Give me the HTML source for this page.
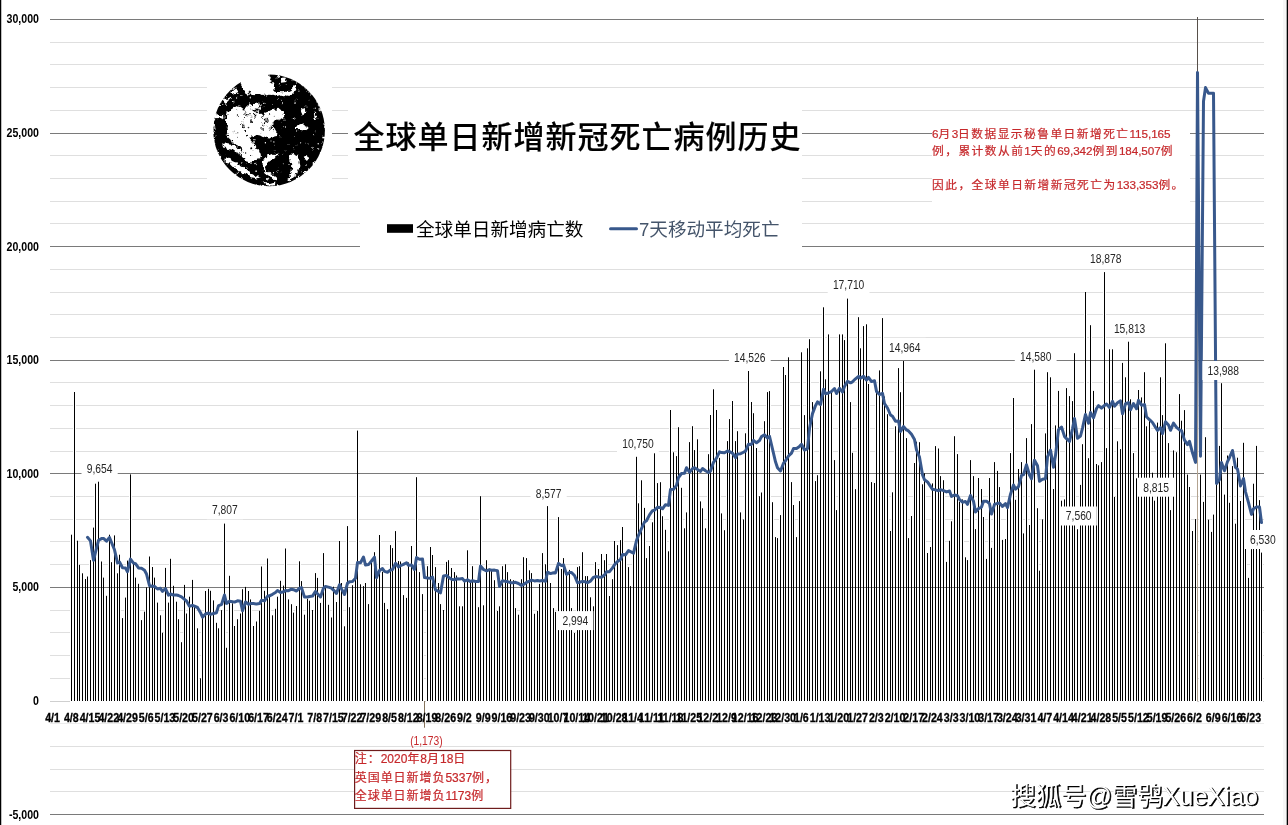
<!DOCTYPE html>
<html lang="zh"><head><meta charset="utf-8"><title>全球单日新增新冠死亡病例历史</title>
<style>
html,body{margin:0;padding:0;background:#fff;}
body{width:1288px;height:825px;overflow:hidden;font-family:"Liberation Sans","Noto Sans CJK SC",sans-serif;}
svg{display:block;}
.ax{font-family:"Liberation Sans",sans-serif;font-weight:bold;font-size:12.4px;fill:#000;stroke:#000;stroke-width:0.3px;}
.ay{font-family:"Liberation Sans",sans-serif;font-weight:bold;font-size:12.8px;fill:#000;}
.dl{font-family:"Liberation Sans",sans-serif;font-size:12.4px;fill:#262626;}
.cj{font-family:"Liberation Sans","Noto Sans CJK SC",sans-serif;}
</style></head><body>
<svg width="1288" height="825" viewBox="0 0 1288 825">
<rect x="0" y="0" width="1288" height="825" fill="#fff"/>
<g shape-rendering="crispEdges"><line x1="50" y1="791.5" x2="1264" y2="791.5" stroke="#dfdfdf" stroke-width="1"/><line x1="50" y1="769.5" x2="1264" y2="769.5" stroke="#dfdfdf" stroke-width="1"/><line x1="50" y1="746.5" x2="1264" y2="746.5" stroke="#dfdfdf" stroke-width="1"/><line x1="50" y1="723.5" x2="1264" y2="723.5" stroke="#ececec" stroke-width="1"/><line x1="50" y1="701.5" x2="1264" y2="701.5" stroke="#cfcfcf" stroke-width="1"/><line x1="50" y1="678.5" x2="1264" y2="678.5" stroke="#dfdfdf" stroke-width="1"/><line x1="50" y1="655.5" x2="1264" y2="655.5" stroke="#dfdfdf" stroke-width="1"/><line x1="50" y1="632.5" x2="1264" y2="632.5" stroke="#dfdfdf" stroke-width="1"/><line x1="50" y1="610.5" x2="1264" y2="610.5" stroke="#dfdfdf" stroke-width="1"/><line x1="50" y1="564.5" x2="1264" y2="564.5" stroke="#dfdfdf" stroke-width="1"/><line x1="50" y1="541.5" x2="1264" y2="541.5" stroke="#dfdfdf" stroke-width="1"/><line x1="50" y1="519.5" x2="1264" y2="519.5" stroke="#dfdfdf" stroke-width="1"/><line x1="50" y1="496.5" x2="1264" y2="496.5" stroke="#dfdfdf" stroke-width="1"/><line x1="50" y1="451.5" x2="1264" y2="451.5" stroke="#dfdfdf" stroke-width="1"/><line x1="50" y1="428.5" x2="1264" y2="428.5" stroke="#dfdfdf" stroke-width="1"/><line x1="50" y1="405.5" x2="1264" y2="405.5" stroke="#dfdfdf" stroke-width="1"/><line x1="50" y1="382.5" x2="1264" y2="382.5" stroke="#dfdfdf" stroke-width="1"/><line x1="50" y1="337.5" x2="1264" y2="337.5" stroke="#dfdfdf" stroke-width="1"/><line x1="50" y1="314.5" x2="1264" y2="314.5" stroke="#dfdfdf" stroke-width="1"/><line x1="50" y1="292.5" x2="1264" y2="292.5" stroke="#dfdfdf" stroke-width="1"/><line x1="50" y1="269.5" x2="1264" y2="269.5" stroke="#dfdfdf" stroke-width="1"/><line x1="50" y1="223.5" x2="1264" y2="223.5" stroke="#dfdfdf" stroke-width="1"/><line x1="50" y1="201.5" x2="1264" y2="201.5" stroke="#dfdfdf" stroke-width="1"/><line x1="50" y1="178.5" x2="1264" y2="178.5" stroke="#dfdfdf" stroke-width="1"/><line x1="50" y1="155.5" x2="1264" y2="155.5" stroke="#dfdfdf" stroke-width="1"/><line x1="50" y1="110.5" x2="1264" y2="110.5" stroke="#dfdfdf" stroke-width="1"/><line x1="50" y1="87.5" x2="1264" y2="87.5" stroke="#dfdfdf" stroke-width="1"/><line x1="50" y1="64.5" x2="1264" y2="64.5" stroke="#dfdfdf" stroke-width="1"/><line x1="50" y1="42.5" x2="1264" y2="42.5" stroke="#dfdfdf" stroke-width="1"/></g>
<g fill="#fff"><rect x="70" y="536.2" width="3" height="165.8"/><rect x="73" y="393.5" width="3" height="308.5"/><rect x="76" y="542.2" width="3" height="159.8"/><rect x="78" y="566.4" width="3" height="135.6"/><rect x="81" y="574.8" width="3" height="127.2"/><rect x="84" y="580.5" width="3" height="121.5"/><rect x="86" y="578.0" width="3" height="124.0"/><rect x="89" y="561.6" width="3" height="140.4"/><rect x="92" y="529.1" width="3" height="172.9"/><rect x="94" y="485.2" width="3" height="216.8"/><rect x="97" y="483.2" width="3" height="218.8"/><rect x="100" y="563.0" width="3" height="139.0"/><rect x="102" y="579.1" width="3" height="122.9"/><rect x="105" y="597.3" width="3" height="104.7"/><rect x="108" y="536.2" width="3" height="165.8"/><rect x="110" y="563.7" width="3" height="138.3"/><rect x="113" y="536.9" width="3" height="165.1"/><rect x="116" y="574.8" width="3" height="127.2"/><rect x="118" y="556.2" width="3" height="145.8"/><rect x="121" y="619.6" width="3" height="82.4"/><rect x="124" y="599.1" width="3" height="102.9"/><rect x="126" y="562.1" width="3" height="139.9"/><rect x="129" y="475.9" width="3" height="226.1"/><rect x="132" y="564.6" width="3" height="137.4"/><rect x="134" y="579.1" width="3" height="122.9"/><rect x="137" y="585.3" width="3" height="116.7"/><rect x="140" y="621.6" width="3" height="80.4"/><rect x="143" y="613.2" width="3" height="88.8"/><rect x="145" y="588.9" width="3" height="113.1"/><rect x="148" y="558.0" width="3" height="144.0"/><rect x="151" y="568.5" width="3" height="133.5"/><rect x="153" y="579.1" width="3" height="122.9"/><rect x="156" y="604.1" width="3" height="97.9"/><rect x="159" y="616.8" width="3" height="85.2"/><rect x="161" y="634.3" width="3" height="67.7"/><rect x="164" y="569.4" width="3" height="132.6"/><rect x="167" y="604.1" width="3" height="97.9"/><rect x="169" y="560.3" width="3" height="141.7"/><rect x="172" y="587.3" width="3" height="114.7"/><rect x="175" y="603.2" width="3" height="98.8"/><rect x="177" y="620.7" width="3" height="81.3"/><rect x="180" y="643.7" width="3" height="58.3"/><rect x="183" y="586.4" width="3" height="115.6"/><rect x="185" y="615.0" width="3" height="87.0"/><rect x="188" y="598.2" width="3" height="103.8"/><rect x="191" y="581.4" width="3" height="120.6"/><rect x="193" y="608.4" width="3" height="93.6"/><rect x="196" y="629.8" width="3" height="72.2"/><rect x="199" y="679.8" width="3" height="22.2"/><rect x="201" y="618.4" width="3" height="83.6"/><rect x="204" y="592.5" width="3" height="109.5"/><rect x="207" y="590.3" width="3" height="111.7"/><rect x="209" y="592.3" width="3" height="109.7"/><rect x="212" y="601.9" width="3" height="100.1"/><rect x="215" y="624.3" width="3" height="77.7"/><rect x="217" y="629.8" width="3" height="72.2"/><rect x="220" y="611.6" width="3" height="90.4"/><rect x="223" y="525.1" width="3" height="176.9"/><rect x="225" y="649.3" width="3" height="52.7"/><rect x="228" y="577.3" width="3" height="124.7"/><rect x="231" y="604.8" width="3" height="97.2"/><rect x="233" y="627.5" width="3" height="74.5"/><rect x="236" y="620.7" width="3" height="81.3"/><rect x="239" y="615.0" width="3" height="87.0"/><rect x="241" y="590.7" width="3" height="111.3"/><rect x="244" y="588.4" width="3" height="113.6"/><rect x="247" y="592.5" width="3" height="109.5"/><rect x="249" y="600.9" width="3" height="101.1"/><rect x="252" y="627.5" width="3" height="74.5"/><rect x="255" y="623.0" width="3" height="79.0"/><rect x="258" y="612.3" width="3" height="89.7"/><rect x="260" y="568.0" width="3" height="134.0"/><rect x="263" y="592.3" width="3" height="109.7"/><rect x="266" y="560.0" width="3" height="142.0"/><rect x="268" y="598.2" width="3" height="103.8"/><rect x="271" y="616.8" width="3" height="85.2"/><rect x="274" y="610.3" width="3" height="91.7"/><rect x="276" y="598.2" width="3" height="103.8"/><rect x="279" y="582.3" width="3" height="119.7"/><rect x="282" y="587.1" width="3" height="114.9"/><rect x="284" y="550.0" width="3" height="152.0"/><rect x="287" y="600.9" width="3" height="101.1"/><rect x="290" y="605.7" width="3" height="96.3"/><rect x="292" y="614.1" width="3" height="87.9"/><rect x="295" y="607.5" width="3" height="94.5"/><rect x="298" y="562.8" width="3" height="139.2"/><rect x="300" y="582.6" width="3" height="119.4"/><rect x="303" y="616.2" width="3" height="85.8"/><rect x="306" y="600.3" width="3" height="101.7"/><rect x="308" y="602.2" width="3" height="99.8"/><rect x="311" y="611.5" width="3" height="90.5"/><rect x="314" y="574.6" width="3" height="127.4"/><rect x="316" y="579.4" width="3" height="122.6"/><rect x="319" y="604.4" width="3" height="97.6"/><rect x="322" y="554.6" width="3" height="147.4"/><rect x="324" y="589.1" width="3" height="112.9"/><rect x="327" y="606.3" width="3" height="95.7"/><rect x="330" y="619.0" width="3" height="83.0"/><rect x="332" y="588.2" width="3" height="113.8"/><rect x="335" y="603.5" width="3" height="98.5"/><rect x="338" y="542.5" width="3" height="159.5"/><rect x="340" y="584.5" width="3" height="117.5"/><rect x="343" y="627.8" width="3" height="74.2"/><rect x="346" y="527.6" width="3" height="174.4"/><rect x="348" y="608.7" width="3" height="93.3"/><rect x="351" y="586.7" width="3" height="115.3"/><rect x="354" y="580.7" width="3" height="121.3"/><rect x="356" y="432.1" width="3" height="269.9"/><rect x="359" y="585.8" width="3" height="116.2"/><rect x="362" y="587.6" width="3" height="114.4"/><rect x="364" y="584.5" width="3" height="117.5"/><rect x="367" y="605.6" width="3" height="96.4"/><rect x="370" y="561.1" width="3" height="140.9"/><rect x="373" y="553.7" width="3" height="148.3"/><rect x="375" y="576.1" width="3" height="125.9"/><rect x="378" y="536.5" width="3" height="165.5"/><rect x="381" y="573.3" width="3" height="128.7"/><rect x="383" y="604.4" width="3" height="97.6"/><rect x="386" y="610.6" width="3" height="91.4"/><rect x="389" y="546.6" width="3" height="155.4"/><rect x="391" y="549.6" width="3" height="152.4"/><rect x="394" y="532.6" width="3" height="169.4"/><rect x="397" y="562.6" width="3" height="139.4"/><rect x="399" y="563.0" width="3" height="139.0"/><rect x="402" y="596.6" width="3" height="105.4"/><rect x="405" y="599.4" width="3" height="102.6"/><rect x="407" y="563.9" width="3" height="138.1"/><rect x="410" y="547.5" width="3" height="154.5"/><rect x="413" y="564.9" width="3" height="137.1"/><rect x="415" y="478.7" width="3" height="223.3"/><rect x="418" y="573.6" width="3" height="128.4"/><rect x="421" y="595.6" width="3" height="106.4"/><rect x="426" y="567.7" width="3" height="134.3"/><rect x="429" y="548.5" width="3" height="153.5"/><rect x="431" y="556.5" width="3" height="145.5"/><rect x="434" y="568.6" width="3" height="133.4"/><rect x="437" y="584.5" width="3" height="117.5"/><rect x="439" y="605.6" width="3" height="96.4"/><rect x="442" y="611.5" width="3" height="90.5"/><rect x="445" y="563.4" width="3" height="138.6"/><rect x="447" y="561.7" width="3" height="140.3"/><rect x="450" y="569.5" width="3" height="132.5"/><rect x="453" y="573.6" width="3" height="128.4"/><rect x="455" y="577.0" width="3" height="125.0"/><rect x="458" y="607.8" width="3" height="94.2"/><rect x="461" y="607.8" width="3" height="94.2"/><rect x="463" y="581.7" width="3" height="120.3"/><rect x="466" y="551.8" width="3" height="150.2"/><rect x="469" y="581.7" width="3" height="120.3"/><rect x="471" y="567.7" width="3" height="134.3"/><rect x="474" y="582.6" width="3" height="119.4"/><rect x="477" y="608.7" width="3" height="93.3"/><rect x="479" y="497.7" width="3" height="204.3"/><rect x="482" y="606.8" width="3" height="95.2"/><rect x="485" y="561.7" width="3" height="140.3"/><rect x="488" y="572.3" width="3" height="129.7"/><rect x="490" y="572.3" width="3" height="129.7"/><rect x="493" y="581.7" width="3" height="120.3"/><rect x="496" y="612.5" width="3" height="89.5"/><rect x="498" y="607.8" width="3" height="94.2"/><rect x="501" y="567.7" width="3" height="134.3"/><rect x="504" y="565.8" width="3" height="136.2"/><rect x="506" y="573.6" width="3" height="128.4"/><rect x="509" y="580.7" width="3" height="121.3"/><rect x="512" y="581.7" width="3" height="120.3"/><rect x="514" y="609.6" width="3" height="92.4"/><rect x="517" y="616.2" width="3" height="85.8"/><rect x="520" y="580.7" width="3" height="121.3"/><rect x="522" y="558.7" width="3" height="143.3"/><rect x="525" y="559.6" width="3" height="142.4"/><rect x="528" y="571.8" width="3" height="130.2"/><rect x="530" y="574.6" width="3" height="127.4"/><rect x="533" y="615.3" width="3" height="86.7"/><rect x="536" y="612.5" width="3" height="89.5"/><rect x="538" y="585.4" width="3" height="116.6"/><rect x="541" y="554.6" width="3" height="147.4"/><rect x="544" y="565.8" width="3" height="136.2"/><rect x="546" y="507.6" width="3" height="194.4"/><rect x="549" y="584.5" width="3" height="117.5"/><rect x="552" y="609.6" width="3" height="92.4"/><rect x="554" y="613.4" width="3" height="88.6"/><rect x="557" y="518.6" width="3" height="183.4"/><rect x="560" y="570.5" width="3" height="131.5"/><rect x="562" y="559.6" width="3" height="142.4"/><rect x="565" y="575.1" width="3" height="126.9"/><rect x="568" y="571.4" width="3" height="130.6"/><rect x="570" y="609.6" width="3" height="92.4"/><rect x="573" y="634.5" width="3" height="67.5"/><rect x="576" y="568.6" width="3" height="133.4"/><rect x="578" y="567.7" width="3" height="134.3"/><rect x="581" y="553.7" width="3" height="148.3"/><rect x="584" y="577.6" width="3" height="124.4"/><rect x="586" y="577.6" width="3" height="124.4"/><rect x="589" y="598.8" width="3" height="103.2"/><rect x="592" y="607.8" width="3" height="94.2"/><rect x="594" y="563.6" width="3" height="138.4"/><rect x="597" y="570.5" width="3" height="131.5"/><rect x="600" y="555.5" width="3" height="146.5"/><rect x="603" y="561.7" width="3" height="140.3"/><rect x="605" y="555.5" width="3" height="146.5"/><rect x="608" y="597.5" width="3" height="104.5"/><rect x="611" y="580.7" width="3" height="121.3"/><rect x="613" y="542.5" width="3" height="159.5"/><rect x="616" y="546.6" width="3" height="155.4"/><rect x="619" y="541.6" width="3" height="160.4"/><rect x="621" y="528.5" width="3" height="173.5"/><rect x="624" y="556.5" width="3" height="145.5"/><rect x="627" y="568.6" width="3" height="133.4"/><rect x="629" y="587.6" width="3" height="114.4"/><rect x="632" y="553.7" width="3" height="148.3"/><rect x="635" y="458.3" width="3" height="243.7"/><rect x="637" y="504.8" width="3" height="197.2"/><rect x="640" y="481.8" width="3" height="220.2"/><rect x="643" y="509.4" width="3" height="192.6"/><rect x="645" y="559.6" width="3" height="142.4"/><rect x="648" y="547.5" width="3" height="154.5"/><rect x="651" y="523.8" width="3" height="178.2"/><rect x="653" y="454.8" width="3" height="247.2"/><rect x="656" y="484.6" width="3" height="217.4"/><rect x="659" y="483.7" width="3" height="218.3"/><rect x="661" y="517.7" width="3" height="184.3"/><rect x="664" y="531.3" width="3" height="170.7"/><rect x="667" y="552.8" width="3" height="149.2"/><rect x="669" y="411.5" width="3" height="290.5"/><rect x="672" y="453.8" width="3" height="248.2"/><rect x="675" y="457.6" width="3" height="244.4"/><rect x="677" y="428.7" width="3" height="273.3"/><rect x="680" y="489.3" width="3" height="212.7"/><rect x="683" y="529.8" width="3" height="172.2"/><rect x="685" y="513.9" width="3" height="188.1"/><rect x="688" y="443.6" width="3" height="258.4"/><rect x="691" y="427.7" width="3" height="274.3"/><rect x="693" y="451.6" width="3" height="250.4"/><rect x="696" y="440.8" width="3" height="261.2"/><rect x="699" y="502.9" width="3" height="199.1"/><rect x="701" y="509.8" width="3" height="192.2"/><rect x="704" y="529.8" width="3" height="172.2"/><rect x="707" y="455.7" width="3" height="246.3"/><rect x="709" y="416.5" width="3" height="285.5"/><rect x="712" y="390.8" width="3" height="311.2"/><rect x="715" y="411.5" width="3" height="290.5"/><rect x="718" y="459.4" width="3" height="242.6"/><rect x="720" y="514.9" width="3" height="187.1"/><rect x="723" y="531.7" width="3" height="170.3"/><rect x="726" y="442.6" width="3" height="259.4"/><rect x="728" y="420.6" width="3" height="281.4"/><rect x="731" y="402.5" width="3" height="299.5"/><rect x="734" y="442.6" width="3" height="259.4"/><rect x="736" y="432.7" width="3" height="269.3"/><rect x="739" y="513.9" width="3" height="188.1"/><rect x="742" y="521.0" width="3" height="181.0"/><rect x="744" y="434.8" width="3" height="267.2"/><rect x="747" y="372.5" width="3" height="329.5"/><rect x="750" y="403.5" width="3" height="298.5"/><rect x="752" y="414.7" width="3" height="287.3"/><rect x="755" y="449.5" width="3" height="252.5"/><rect x="758" y="497.7" width="3" height="204.3"/><rect x="760" y="494.0" width="3" height="208.0"/><rect x="763" y="422.7" width="3" height="279.3"/><rect x="766" y="393.6" width="3" height="308.4"/><rect x="768" y="392.6" width="3" height="309.4"/><rect x="771" y="503.7" width="3" height="198.3"/><rect x="774" y="538.6" width="3" height="163.4"/><rect x="776" y="539.6" width="3" height="162.4"/><rect x="779" y="516.6" width="3" height="185.4"/><rect x="782" y="368.5" width="3" height="333.5"/><rect x="784" y="376.5" width="3" height="325.5"/><rect x="787" y="358.8" width="3" height="343.2"/><rect x="790" y="483.6" width="3" height="218.4"/><rect x="792" y="506.5" width="3" height="195.5"/><rect x="795" y="538.6" width="3" height="163.4"/><rect x="798" y="502.6" width="3" height="199.4"/><rect x="800" y="353.8" width="3" height="348.2"/><rect x="803" y="416.6" width="3" height="285.4"/><rect x="806" y="349.8" width="3" height="352.2"/><rect x="808" y="340.7" width="3" height="361.3"/><rect x="811" y="403.6" width="3" height="298.4"/><rect x="814" y="482.6" width="3" height="219.4"/><rect x="816" y="476.7" width="3" height="225.3"/><rect x="819" y="372.8" width="3" height="329.2"/><rect x="822" y="308.8" width="3" height="393.2"/><rect x="824" y="380.8" width="3" height="321.2"/><rect x="827" y="335.9" width="3" height="366.1"/><rect x="830" y="393.3" width="3" height="308.7"/><rect x="833" y="461.6" width="3" height="240.4"/><rect x="835" y="511.6" width="3" height="190.4"/><rect x="838" y="335.9" width="3" height="366.1"/><rect x="841" y="335.9" width="3" height="366.1"/><rect x="843" y="341.6" width="3" height="360.4"/><rect x="846" y="300.1" width="3" height="401.9"/><rect x="849" y="403.6" width="3" height="298.4"/><rect x="851" y="454.3" width="3" height="247.7"/><rect x="854" y="490.7" width="3" height="211.3"/><rect x="857" y="318.7" width="3" height="383.3"/><rect x="859" y="349.8" width="3" height="352.2"/><rect x="862" y="327.6" width="3" height="374.4"/><rect x="865" y="325.8" width="3" height="376.2"/><rect x="867" y="385.5" width="3" height="316.5"/><rect x="870" y="483.6" width="3" height="218.4"/><rect x="873" y="484.5" width="3" height="217.5"/><rect x="875" y="393.3" width="3" height="308.7"/><rect x="878" y="371.9" width="3" height="330.1"/><rect x="881" y="319.6" width="3" height="382.4"/><rect x="883" y="398.0" width="3" height="304.0"/><rect x="886" y="415.7" width="3" height="286.3"/><rect x="889" y="532.5" width="3" height="169.5"/><rect x="891" y="493.8" width="3" height="208.2"/><rect x="894" y="427.8" width="3" height="274.2"/><rect x="897" y="369.6" width="3" height="332.4"/><rect x="899" y="393.7" width="3" height="308.3"/><rect x="902" y="362.5" width="3" height="339.5"/><rect x="905" y="439.6" width="3" height="262.4"/><rect x="907" y="539.6" width="3" height="162.4"/><rect x="910" y="517.5" width="3" height="184.5"/><rect x="913" y="464.5" width="3" height="237.5"/><rect x="915" y="443.2" width="3" height="258.8"/><rect x="918" y="443.7" width="3" height="258.3"/><rect x="921" y="485.8" width="3" height="216.2"/><rect x="923" y="474.8" width="3" height="227.2"/><rect x="926" y="554.5" width="3" height="147.5"/><rect x="929" y="548.5" width="3" height="153.5"/><rect x="931" y="484.9" width="3" height="217.1"/><rect x="934" y="447.6" width="3" height="254.4"/><rect x="937" y="450.0" width="3" height="252.0"/><rect x="939" y="477.6" width="3" height="224.4"/><rect x="942" y="481.7" width="3" height="220.3"/><rect x="945" y="563.4" width="3" height="138.6"/><rect x="948" y="542.3" width="3" height="159.7"/><rect x="950" y="522.8" width="3" height="179.2"/><rect x="953" y="437.7" width="3" height="264.3"/><rect x="956" y="455.6" width="3" height="246.4"/><rect x="958" y="503.2" width="3" height="198.8"/><rect x="961" y="500.9" width="3" height="201.1"/><rect x="964" y="558.8" width="3" height="143.2"/><rect x="966" y="561.6" width="3" height="140.4"/><rect x="969" y="461.6" width="3" height="240.4"/><rect x="972" y="477.6" width="3" height="224.4"/><rect x="974" y="530.6" width="3" height="171.4"/><rect x="977" y="479.5" width="3" height="222.5"/><rect x="980" y="490.5" width="3" height="211.5"/><rect x="982" y="518.5" width="3" height="183.5"/><rect x="985" y="560.4" width="3" height="141.6"/><rect x="988" y="479.5" width="3" height="222.5"/><rect x="990" y="549.4" width="3" height="152.6"/><rect x="993" y="463.6" width="3" height="238.4"/><rect x="996" y="472.4" width="3" height="229.6"/><rect x="998" y="488.6" width="3" height="213.4"/><rect x="1001" y="541.4" width="3" height="160.6"/><rect x="1004" y="540.5" width="3" height="161.5"/><rect x="1006" y="508.8" width="3" height="193.2"/><rect x="1009" y="454.6" width="3" height="247.4"/><rect x="1012" y="399.5" width="3" height="302.5"/><rect x="1014" y="501.3" width="3" height="200.7"/><rect x="1017" y="470.5" width="3" height="231.5"/><rect x="1020" y="463.6" width="3" height="238.4"/><rect x="1022" y="534.9" width="3" height="167.1"/><rect x="1025" y="439.6" width="3" height="262.4"/><rect x="1028" y="526.5" width="3" height="175.5"/><rect x="1030" y="425.6" width="3" height="276.4"/><rect x="1033" y="371.2" width="3" height="330.8"/><rect x="1036" y="509.7" width="3" height="192.3"/><rect x="1038" y="572.2" width="3" height="129.8"/><rect x="1041" y="520.9" width="3" height="181.1"/><rect x="1044" y="434.9" width="3" height="267.1"/><rect x="1046" y="373.7" width="3" height="328.3"/><rect x="1049" y="378.8" width="3" height="323.2"/><rect x="1052" y="490.5" width="3" height="211.5"/><rect x="1054" y="426.9" width="3" height="275.1"/><rect x="1057" y="392.4" width="3" height="309.6"/><rect x="1060" y="502.2" width="3" height="199.8"/><rect x="1063" y="500.9" width="3" height="201.1"/><rect x="1065" y="389.6" width="3" height="312.4"/><rect x="1068" y="397.6" width="3" height="304.4"/><rect x="1071" y="402.6" width="3" height="299.4"/><rect x="1073" y="354.7" width="3" height="347.3"/><rect x="1076" y="530.7" width="3" height="171.3"/><rect x="1079" y="486.4" width="3" height="215.6"/><rect x="1081" y="445.7" width="3" height="256.3"/><rect x="1084" y="293.5" width="3" height="408.5"/><rect x="1087" y="459.7" width="3" height="242.3"/><rect x="1089" y="326.7" width="3" height="375.3"/><rect x="1092" y="392.4" width="3" height="309.6"/><rect x="1095" y="465.5" width="3" height="236.5"/><rect x="1097" y="466.8" width="3" height="235.2"/><rect x="1100" y="463.6" width="3" height="238.4"/><rect x="1103" y="273.6" width="3" height="428.4"/><rect x="1105" y="449.6" width="3" height="252.4"/><rect x="1108" y="350.8" width="3" height="351.2"/><rect x="1111" y="350.8" width="3" height="351.2"/><rect x="1113" y="498.5" width="3" height="203.5"/><rect x="1116" y="442.8" width="3" height="259.2"/><rect x="1119" y="450.6" width="3" height="251.4"/><rect x="1121" y="364.4" width="3" height="337.6"/><rect x="1124" y="378.8" width="3" height="323.2"/><rect x="1127" y="343.2" width="3" height="358.8"/><rect x="1129" y="400.8" width="3" height="301.2"/><rect x="1132" y="454.6" width="3" height="247.4"/><rect x="1135" y="479.8" width="3" height="222.2"/><rect x="1137" y="391.5" width="3" height="310.5"/><rect x="1140" y="398.9" width="3" height="303.1"/><rect x="1143" y="373.7" width="3" height="328.3"/><rect x="1145" y="427.8" width="3" height="274.2"/><rect x="1148" y="422.2" width="3" height="279.8"/><rect x="1151" y="474.2" width="3" height="227.8"/><rect x="1153" y="502.2" width="3" height="199.8"/><rect x="1156" y="424.1" width="3" height="277.9"/><rect x="1159" y="378.8" width="3" height="323.2"/><rect x="1161" y="416.6" width="3" height="285.4"/><rect x="1164" y="344.8" width="3" height="357.2"/><rect x="1167" y="444.6" width="3" height="257.4"/><rect x="1169" y="511.6" width="3" height="190.4"/><rect x="1172" y="451.9" width="3" height="250.1"/><rect x="1175" y="453.7" width="3" height="248.3"/><rect x="1178" y="395.6" width="3" height="306.4"/><rect x="1180" y="422.2" width="3" height="279.8"/><rect x="1183" y="411.6" width="3" height="290.4"/><rect x="1186" y="476.1" width="3" height="225.9"/><rect x="1188" y="488.5" width="3" height="213.5"/><rect x="1191" y="532.5" width="3" height="169.5"/><rect x="1194" y="520.6" width="3" height="181.4"/><rect x="1199" y="476.1" width="3" height="225.9"/><rect x="1202" y="503.4" width="3" height="198.6"/><rect x="1204" y="438.7" width="3" height="263.3"/><rect x="1207" y="521.2" width="3" height="180.8"/><rect x="1210" y="533.4" width="3" height="168.6"/><rect x="1212" y="516.1" width="3" height="185.9"/><rect x="1215" y="407.1" width="3" height="294.9"/><rect x="1218" y="447.4" width="3" height="254.6"/><rect x="1220" y="384.7" width="3" height="317.3"/><rect x="1223" y="496.1" width="3" height="205.9"/><rect x="1226" y="457.0" width="3" height="245.0"/><rect x="1228" y="504.3" width="3" height="197.7"/><rect x="1231" y="467.6" width="3" height="234.4"/><rect x="1234" y="525.2" width="3" height="176.8"/><rect x="1236" y="459.2" width="3" height="242.8"/><rect x="1239" y="502.5" width="3" height="199.5"/><rect x="1242" y="444.3" width="3" height="257.7"/><rect x="1244" y="550.3" width="3" height="151.7"/><rect x="1247" y="579.4" width="3" height="122.6"/><rect x="1250" y="550.6" width="3" height="151.4"/><rect x="1252" y="485.2" width="3" height="216.8"/><rect x="1255" y="447.4" width="3" height="254.6"/><rect x="1258" y="501.6" width="3" height="200.4"/><rect x="1260" y="554.1" width="3" height="147.9"/></g>
<g shape-rendering="crispEdges"><line x1="50" y1="814.5" x2="1264" y2="814.5" stroke="#7a7a7a" stroke-width="1.2"/><line x1="50" y1="587.5" x2="1264" y2="587.5" stroke="#7a7a7a" stroke-width="1.2"/><line x1="50" y1="473.5" x2="1264" y2="473.5" stroke="#7a7a7a" stroke-width="1.2"/><line x1="50" y1="360.5" x2="1264" y2="360.5" stroke="#7a7a7a" stroke-width="1.2"/><line x1="50" y1="246.5" x2="1264" y2="246.5" stroke="#7a7a7a" stroke-width="1.2"/><line x1="50" y1="133.5" x2="1264" y2="133.5" stroke="#7a7a7a" stroke-width="1.2"/><line x1="50" y1="19.5" x2="1264" y2="19.5" stroke="#7a7a7a" stroke-width="1.2"/></g>
<rect x="207" y="68" width="125" height="124" fill="#fff"/>
<rect x="348" y="100" width="454" height="92" fill="#fff"/>
<rect x="360" y="196" width="442" height="54" fill="#fff"/>
<rect x="932" y="118" width="258" height="96" fill="#fff"/>
<g fill="#000"><rect x="71" y="534.7" width="1" height="166.3"/><rect x="74" y="392.0" width="1" height="309.0"/><rect x="77" y="540.7" width="1" height="160.3"/><rect x="79" y="564.9" width="1" height="136.1"/><rect x="82" y="573.3" width="1" height="127.7"/><rect x="85" y="579.0" width="1" height="122.0"/><rect x="87" y="576.5" width="1" height="124.5"/><rect x="90" y="560.1" width="1" height="140.9"/><rect x="93" y="527.6" width="1" height="173.4"/><rect x="95" y="483.7" width="1" height="217.3"/><rect x="98" y="481.7" width="1" height="219.3"/><rect x="101" y="561.5" width="1" height="139.5"/><rect x="103" y="577.6" width="1" height="123.4"/><rect x="106" y="595.8" width="1" height="105.2"/><rect x="109" y="534.7" width="1" height="166.3"/><rect x="111" y="562.2" width="1" height="138.8"/><rect x="114" y="535.4" width="1" height="165.6"/><rect x="117" y="573.3" width="1" height="127.7"/><rect x="119" y="554.7" width="1" height="146.3"/><rect x="122" y="618.1" width="1" height="82.9"/><rect x="125" y="597.6" width="1" height="103.4"/><rect x="127" y="560.6" width="1" height="140.4"/><rect x="130" y="474.4" width="1" height="226.6"/><rect x="133" y="563.1" width="1" height="137.9"/><rect x="135" y="577.6" width="1" height="123.4"/><rect x="138" y="583.8" width="1" height="117.2"/><rect x="141" y="620.1" width="1" height="80.9"/><rect x="144" y="611.7" width="1" height="89.3"/><rect x="146" y="587.4" width="1" height="113.6"/><rect x="149" y="556.5" width="1" height="144.5"/><rect x="152" y="567.0" width="1" height="134.0"/><rect x="154" y="577.6" width="1" height="123.4"/><rect x="157" y="602.6" width="1" height="98.4"/><rect x="160" y="615.3" width="1" height="85.7"/><rect x="162" y="632.8" width="1" height="68.2"/><rect x="165" y="567.9" width="1" height="133.1"/><rect x="168" y="602.6" width="1" height="98.4"/><rect x="170" y="558.8" width="1" height="142.2"/><rect x="173" y="585.8" width="1" height="115.2"/><rect x="176" y="601.7" width="1" height="99.3"/><rect x="178" y="619.2" width="1" height="81.8"/><rect x="181" y="642.2" width="1" height="58.8"/><rect x="184" y="584.9" width="1" height="116.1"/><rect x="186" y="613.5" width="1" height="87.5"/><rect x="189" y="596.7" width="1" height="104.3"/><rect x="192" y="579.9" width="1" height="121.1"/><rect x="194" y="606.9" width="1" height="94.1"/><rect x="197" y="628.3" width="1" height="72.7"/><rect x="200" y="678.3" width="1" height="22.7"/><rect x="202" y="616.9" width="1" height="84.1"/><rect x="205" y="591.0" width="1" height="110.0"/><rect x="208" y="588.8" width="1" height="112.2"/><rect x="210" y="590.8" width="1" height="110.2"/><rect x="213" y="600.4" width="1" height="100.6"/><rect x="216" y="622.8" width="1" height="78.2"/><rect x="218" y="628.3" width="1" height="72.7"/><rect x="221" y="610.1" width="1" height="90.9"/><rect x="224" y="523.6" width="1" height="177.4"/><rect x="226" y="647.8" width="1" height="53.2"/><rect x="229" y="575.8" width="1" height="125.2"/><rect x="232" y="603.3" width="1" height="97.7"/><rect x="234" y="626.0" width="1" height="75.0"/><rect x="237" y="619.2" width="1" height="81.8"/><rect x="240" y="613.5" width="1" height="87.5"/><rect x="242" y="589.2" width="1" height="111.8"/><rect x="245" y="586.9" width="1" height="114.1"/><rect x="248" y="591.0" width="1" height="110.0"/><rect x="250" y="599.4" width="1" height="101.6"/><rect x="253" y="626.0" width="1" height="75.0"/><rect x="256" y="621.5" width="1" height="79.5"/><rect x="259" y="610.8" width="1" height="90.2"/><rect x="261" y="566.5" width="1" height="134.5"/><rect x="264" y="590.8" width="1" height="110.2"/><rect x="267" y="558.5" width="1" height="142.5"/><rect x="269" y="596.7" width="1" height="104.3"/><rect x="272" y="615.3" width="1" height="85.7"/><rect x="275" y="608.8" width="1" height="92.2"/><rect x="277" y="596.7" width="1" height="104.3"/><rect x="280" y="580.8" width="1" height="120.2"/><rect x="283" y="585.6" width="1" height="115.4"/><rect x="285" y="548.5" width="1" height="152.5"/><rect x="288" y="599.4" width="1" height="101.6"/><rect x="291" y="604.2" width="1" height="96.8"/><rect x="293" y="612.6" width="1" height="88.4"/><rect x="296" y="606.0" width="1" height="95.0"/><rect x="299" y="561.3" width="1" height="139.7"/><rect x="301" y="581.1" width="1" height="119.9"/><rect x="304" y="614.7" width="1" height="86.3"/><rect x="307" y="598.8" width="1" height="102.2"/><rect x="309" y="600.7" width="1" height="100.3"/><rect x="312" y="610.0" width="1" height="91.0"/><rect x="315" y="573.1" width="1" height="127.9"/><rect x="317" y="577.9" width="1" height="123.1"/><rect x="320" y="602.9" width="1" height="98.1"/><rect x="323" y="553.1" width="1" height="147.9"/><rect x="325" y="587.6" width="1" height="113.4"/><rect x="328" y="604.8" width="1" height="96.2"/><rect x="331" y="617.5" width="1" height="83.5"/><rect x="333" y="586.7" width="1" height="114.3"/><rect x="336" y="602.0" width="1" height="99.0"/><rect x="339" y="541.0" width="1" height="160.0"/><rect x="341" y="583.0" width="1" height="118.0"/><rect x="344" y="626.3" width="1" height="74.7"/><rect x="347" y="526.1" width="1" height="174.9"/><rect x="349" y="607.2" width="1" height="93.8"/><rect x="352" y="585.2" width="1" height="115.8"/><rect x="355" y="579.2" width="1" height="121.8"/><rect x="357" y="430.6" width="1" height="270.4"/><rect x="360" y="584.3" width="1" height="116.7"/><rect x="363" y="586.1" width="1" height="114.9"/><rect x="365" y="583.0" width="1" height="118.0"/><rect x="368" y="604.1" width="1" height="96.9"/><rect x="371" y="559.6" width="1" height="141.4"/><rect x="374" y="552.2" width="1" height="148.8"/><rect x="376" y="574.6" width="1" height="126.4"/><rect x="379" y="535.0" width="1" height="166.0"/><rect x="382" y="571.8" width="1" height="129.2"/><rect x="384" y="602.9" width="1" height="98.1"/><rect x="387" y="609.1" width="1" height="91.9"/><rect x="390" y="545.1" width="1" height="155.9"/><rect x="392" y="548.1" width="1" height="152.9"/><rect x="395" y="531.1" width="1" height="169.9"/><rect x="398" y="561.1" width="1" height="139.9"/><rect x="400" y="561.5" width="1" height="139.5"/><rect x="403" y="595.1" width="1" height="105.9"/><rect x="406" y="597.9" width="1" height="103.1"/><rect x="408" y="562.4" width="1" height="138.6"/><rect x="411" y="546.0" width="1" height="155.0"/><rect x="414" y="563.4" width="1" height="137.6"/><rect x="416" y="477.2" width="1" height="223.8"/><rect x="419" y="572.1" width="1" height="128.9"/><rect x="422" y="594.1" width="1" height="106.9"/><rect x="424" y="701.0" width="1" height="26.7" fill="#85735c"/><rect x="427" y="566.2" width="1" height="134.8"/><rect x="430" y="547.0" width="1" height="154.0"/><rect x="432" y="555.0" width="1" height="146.0"/><rect x="435" y="567.1" width="1" height="133.9"/><rect x="438" y="583.0" width="1" height="118.0"/><rect x="440" y="604.1" width="1" height="96.9"/><rect x="443" y="610.0" width="1" height="91.0"/><rect x="446" y="561.9" width="1" height="139.1"/><rect x="448" y="560.2" width="1" height="140.8"/><rect x="451" y="568.0" width="1" height="133.0"/><rect x="454" y="572.1" width="1" height="128.9"/><rect x="456" y="575.5" width="1" height="125.5"/><rect x="459" y="606.3" width="1" height="94.7"/><rect x="462" y="606.3" width="1" height="94.7"/><rect x="464" y="580.2" width="1" height="120.8"/><rect x="467" y="550.3" width="1" height="150.7"/><rect x="470" y="580.2" width="1" height="120.8"/><rect x="472" y="566.2" width="1" height="134.8"/><rect x="475" y="581.1" width="1" height="119.9"/><rect x="478" y="607.2" width="1" height="93.8"/><rect x="480" y="496.2" width="1" height="204.8"/><rect x="483" y="605.3" width="1" height="95.7"/><rect x="486" y="560.2" width="1" height="140.8"/><rect x="489" y="570.8" width="1" height="130.2"/><rect x="491" y="570.8" width="1" height="130.2"/><rect x="494" y="580.2" width="1" height="120.8"/><rect x="497" y="611.0" width="1" height="90.0"/><rect x="499" y="606.3" width="1" height="94.7"/><rect x="502" y="566.2" width="1" height="134.8"/><rect x="505" y="564.3" width="1" height="136.7"/><rect x="507" y="572.1" width="1" height="128.9"/><rect x="510" y="579.2" width="1" height="121.8"/><rect x="513" y="580.2" width="1" height="120.8"/><rect x="515" y="608.1" width="1" height="92.9"/><rect x="518" y="614.7" width="1" height="86.3"/><rect x="521" y="579.2" width="1" height="121.8"/><rect x="523" y="557.2" width="1" height="143.8"/><rect x="526" y="558.1" width="1" height="142.9"/><rect x="529" y="570.3" width="1" height="130.7"/><rect x="531" y="573.1" width="1" height="127.9"/><rect x="534" y="613.8" width="1" height="87.2"/><rect x="537" y="611.0" width="1" height="90.0"/><rect x="539" y="583.9" width="1" height="117.1"/><rect x="542" y="553.1" width="1" height="147.9"/><rect x="545" y="564.3" width="1" height="136.7"/><rect x="547" y="506.1" width="1" height="194.9"/><rect x="550" y="583.0" width="1" height="118.0"/><rect x="553" y="608.1" width="1" height="92.9"/><rect x="555" y="611.9" width="1" height="89.1"/><rect x="558" y="517.1" width="1" height="183.9"/><rect x="561" y="569.0" width="1" height="132.0"/><rect x="563" y="558.1" width="1" height="142.9"/><rect x="566" y="573.6" width="1" height="127.4"/><rect x="569" y="569.9" width="1" height="131.1"/><rect x="571" y="608.1" width="1" height="92.9"/><rect x="574" y="633.0" width="1" height="68.0"/><rect x="577" y="567.1" width="1" height="133.9"/><rect x="579" y="566.2" width="1" height="134.8"/><rect x="582" y="552.2" width="1" height="148.8"/><rect x="585" y="576.1" width="1" height="124.9"/><rect x="587" y="576.1" width="1" height="124.9"/><rect x="590" y="597.3" width="1" height="103.7"/><rect x="593" y="606.3" width="1" height="94.7"/><rect x="595" y="562.1" width="1" height="138.9"/><rect x="598" y="569.0" width="1" height="132.0"/><rect x="601" y="554.0" width="1" height="147.0"/><rect x="604" y="560.2" width="1" height="140.8"/><rect x="606" y="554.0" width="1" height="147.0"/><rect x="609" y="596.0" width="1" height="105.0"/><rect x="612" y="579.2" width="1" height="121.8"/><rect x="614" y="541.0" width="1" height="160.0"/><rect x="617" y="545.1" width="1" height="155.9"/><rect x="620" y="540.1" width="1" height="160.9"/><rect x="622" y="527.0" width="1" height="174.0"/><rect x="625" y="555.0" width="1" height="146.0"/><rect x="628" y="567.1" width="1" height="133.9"/><rect x="630" y="586.1" width="1" height="114.9"/><rect x="633" y="552.2" width="1" height="148.8"/><rect x="636" y="456.8" width="1" height="244.2"/><rect x="638" y="503.3" width="1" height="197.7"/><rect x="641" y="480.3" width="1" height="220.7"/><rect x="644" y="507.9" width="1" height="193.1"/><rect x="646" y="558.1" width="1" height="142.9"/><rect x="649" y="546.0" width="1" height="155.0"/><rect x="652" y="522.3" width="1" height="178.7"/><rect x="654" y="453.3" width="1" height="247.7"/><rect x="657" y="483.1" width="1" height="217.9"/><rect x="660" y="482.2" width="1" height="218.8"/><rect x="662" y="516.2" width="1" height="184.8"/><rect x="665" y="529.8" width="1" height="171.2"/><rect x="668" y="551.3" width="1" height="149.7"/><rect x="670" y="410.0" width="1" height="291.0"/><rect x="673" y="452.3" width="1" height="248.7"/><rect x="676" y="456.1" width="1" height="244.9"/><rect x="678" y="427.2" width="1" height="273.8"/><rect x="681" y="487.8" width="1" height="213.2"/><rect x="684" y="528.3" width="1" height="172.7"/><rect x="686" y="512.4" width="1" height="188.6"/><rect x="689" y="442.1" width="1" height="258.9"/><rect x="692" y="426.2" width="1" height="274.8"/><rect x="694" y="450.1" width="1" height="250.9"/><rect x="697" y="439.3" width="1" height="261.7"/><rect x="700" y="501.4" width="1" height="199.6"/><rect x="702" y="508.3" width="1" height="192.7"/><rect x="705" y="528.3" width="1" height="172.7"/><rect x="708" y="454.2" width="1" height="246.8"/><rect x="710" y="415.0" width="1" height="286.0"/><rect x="713" y="389.3" width="1" height="311.7"/><rect x="716" y="410.0" width="1" height="291.0"/><rect x="719" y="457.9" width="1" height="243.1"/><rect x="721" y="513.4" width="1" height="187.6"/><rect x="724" y="530.2" width="1" height="170.8"/><rect x="727" y="441.1" width="1" height="259.9"/><rect x="729" y="419.1" width="1" height="281.9"/><rect x="732" y="401.0" width="1" height="300.0"/><rect x="735" y="441.1" width="1" height="259.9"/><rect x="737" y="431.2" width="1" height="269.8"/><rect x="740" y="512.4" width="1" height="188.6"/><rect x="743" y="519.5" width="1" height="181.5"/><rect x="745" y="433.3" width="1" height="267.7"/><rect x="748" y="371.0" width="1" height="330.0"/><rect x="751" y="402.0" width="1" height="299.0"/><rect x="753" y="413.2" width="1" height="287.8"/><rect x="756" y="448.0" width="1" height="253.0"/><rect x="759" y="496.2" width="1" height="204.8"/><rect x="761" y="492.5" width="1" height="208.5"/><rect x="764" y="421.2" width="1" height="279.8"/><rect x="767" y="392.1" width="1" height="308.9"/><rect x="769" y="391.1" width="1" height="309.9"/><rect x="772" y="502.2" width="1" height="198.8"/><rect x="775" y="537.1" width="1" height="163.9"/><rect x="777" y="538.1" width="1" height="162.9"/><rect x="780" y="515.1" width="1" height="185.9"/><rect x="783" y="367.0" width="1" height="334.0"/><rect x="785" y="375.0" width="1" height="326.0"/><rect x="788" y="357.3" width="1" height="343.7"/><rect x="791" y="482.1" width="1" height="218.9"/><rect x="793" y="505.0" width="1" height="196.0"/><rect x="796" y="537.1" width="1" height="163.9"/><rect x="799" y="501.1" width="1" height="199.9"/><rect x="801" y="352.3" width="1" height="348.7"/><rect x="804" y="415.1" width="1" height="285.9"/><rect x="807" y="348.3" width="1" height="352.7"/><rect x="809" y="339.2" width="1" height="361.8"/><rect x="812" y="402.1" width="1" height="298.9"/><rect x="815" y="481.1" width="1" height="219.9"/><rect x="817" y="475.2" width="1" height="225.8"/><rect x="820" y="371.3" width="1" height="329.7"/><rect x="823" y="307.3" width="1" height="393.7"/><rect x="825" y="379.3" width="1" height="321.7"/><rect x="828" y="334.4" width="1" height="366.6"/><rect x="831" y="391.8" width="1" height="309.2"/><rect x="834" y="460.1" width="1" height="240.9"/><rect x="836" y="510.1" width="1" height="190.9"/><rect x="839" y="334.4" width="1" height="366.6"/><rect x="842" y="334.4" width="1" height="366.6"/><rect x="844" y="340.1" width="1" height="360.9"/><rect x="847" y="298.6" width="1" height="402.4"/><rect x="850" y="402.1" width="1" height="298.9"/><rect x="852" y="452.8" width="1" height="248.2"/><rect x="855" y="489.2" width="1" height="211.8"/><rect x="858" y="317.2" width="1" height="383.8"/><rect x="860" y="348.3" width="1" height="352.7"/><rect x="863" y="326.1" width="1" height="374.9"/><rect x="866" y="324.3" width="1" height="376.7"/><rect x="868" y="384.0" width="1" height="317.0"/><rect x="871" y="482.1" width="1" height="218.9"/><rect x="874" y="483.0" width="1" height="218.0"/><rect x="876" y="391.8" width="1" height="309.2"/><rect x="879" y="370.4" width="1" height="330.6"/><rect x="882" y="318.1" width="1" height="382.9"/><rect x="884" y="396.5" width="1" height="304.5"/><rect x="887" y="414.2" width="1" height="286.8"/><rect x="890" y="531.0" width="1" height="170.0"/><rect x="892" y="492.3" width="1" height="208.7"/><rect x="895" y="426.3" width="1" height="274.7"/><rect x="898" y="368.1" width="1" height="332.9"/><rect x="900" y="392.2" width="1" height="308.8"/><rect x="903" y="361.0" width="1" height="340.0"/><rect x="906" y="438.1" width="1" height="262.9"/><rect x="908" y="538.1" width="1" height="162.9"/><rect x="911" y="516.0" width="1" height="185.0"/><rect x="914" y="463.0" width="1" height="238.0"/><rect x="916" y="441.7" width="1" height="259.3"/><rect x="919" y="442.2" width="1" height="258.8"/><rect x="922" y="484.3" width="1" height="216.7"/><rect x="924" y="473.3" width="1" height="227.7"/><rect x="927" y="553.0" width="1" height="148.0"/><rect x="930" y="547.0" width="1" height="154.0"/><rect x="932" y="483.4" width="1" height="217.6"/><rect x="935" y="446.1" width="1" height="254.9"/><rect x="938" y="448.5" width="1" height="252.5"/><rect x="940" y="476.1" width="1" height="224.9"/><rect x="943" y="480.2" width="1" height="220.8"/><rect x="946" y="561.9" width="1" height="139.1"/><rect x="949" y="540.8" width="1" height="160.2"/><rect x="951" y="521.3" width="1" height="179.7"/><rect x="954" y="436.2" width="1" height="264.8"/><rect x="957" y="454.1" width="1" height="246.9"/><rect x="959" y="501.7" width="1" height="199.3"/><rect x="962" y="499.4" width="1" height="201.6"/><rect x="965" y="557.3" width="1" height="143.7"/><rect x="967" y="560.1" width="1" height="140.9"/><rect x="970" y="460.1" width="1" height="240.9"/><rect x="973" y="476.1" width="1" height="224.9"/><rect x="975" y="529.1" width="1" height="171.9"/><rect x="978" y="478.0" width="1" height="223.0"/><rect x="981" y="489.0" width="1" height="212.0"/><rect x="983" y="517.0" width="1" height="184.0"/><rect x="986" y="558.9" width="1" height="142.1"/><rect x="989" y="478.0" width="1" height="223.0"/><rect x="991" y="547.9" width="1" height="153.1"/><rect x="994" y="462.1" width="1" height="238.9"/><rect x="997" y="470.9" width="1" height="230.1"/><rect x="999" y="487.1" width="1" height="213.9"/><rect x="1002" y="539.9" width="1" height="161.1"/><rect x="1005" y="539.0" width="1" height="162.0"/><rect x="1007" y="507.3" width="1" height="193.7"/><rect x="1010" y="453.1" width="1" height="247.9"/><rect x="1013" y="398.0" width="1" height="303.0"/><rect x="1015" y="499.8" width="1" height="201.2"/><rect x="1018" y="469.0" width="1" height="232.0"/><rect x="1021" y="462.1" width="1" height="238.9"/><rect x="1023" y="533.4" width="1" height="167.6"/><rect x="1026" y="438.1" width="1" height="262.9"/><rect x="1029" y="525.0" width="1" height="176.0"/><rect x="1031" y="424.1" width="1" height="276.9"/><rect x="1034" y="369.7" width="1" height="331.3"/><rect x="1037" y="508.2" width="1" height="192.8"/><rect x="1039" y="570.7" width="1" height="130.3"/><rect x="1042" y="519.4" width="1" height="181.6"/><rect x="1045" y="433.4" width="1" height="267.6"/><rect x="1047" y="372.2" width="1" height="328.8"/><rect x="1050" y="377.3" width="1" height="323.7"/><rect x="1053" y="489.0" width="1" height="212.0"/><rect x="1055" y="425.4" width="1" height="275.6"/><rect x="1058" y="390.9" width="1" height="310.1"/><rect x="1061" y="500.7" width="1" height="200.3"/><rect x="1064" y="499.4" width="1" height="201.6"/><rect x="1066" y="388.1" width="1" height="312.9"/><rect x="1069" y="396.1" width="1" height="304.9"/><rect x="1072" y="401.1" width="1" height="299.9"/><rect x="1074" y="353.2" width="1" height="347.8"/><rect x="1077" y="529.2" width="1" height="171.8"/><rect x="1080" y="484.9" width="1" height="216.1"/><rect x="1082" y="444.2" width="1" height="256.8"/><rect x="1085" y="292.0" width="1" height="409.0"/><rect x="1088" y="458.2" width="1" height="242.8"/><rect x="1090" y="325.2" width="1" height="375.8"/><rect x="1093" y="390.9" width="1" height="310.1"/><rect x="1096" y="464.0" width="1" height="237.0"/><rect x="1098" y="465.3" width="1" height="235.7"/><rect x="1101" y="462.1" width="1" height="238.9"/><rect x="1104" y="272.1" width="1" height="428.9"/><rect x="1106" y="448.1" width="1" height="252.9"/><rect x="1109" y="349.3" width="1" height="351.7"/><rect x="1112" y="349.3" width="1" height="351.7"/><rect x="1114" y="497.0" width="1" height="204.0"/><rect x="1117" y="441.3" width="1" height="259.7"/><rect x="1120" y="449.1" width="1" height="251.9"/><rect x="1122" y="362.9" width="1" height="338.1"/><rect x="1125" y="377.3" width="1" height="323.7"/><rect x="1128" y="341.7" width="1" height="359.3"/><rect x="1130" y="399.3" width="1" height="301.7"/><rect x="1133" y="453.1" width="1" height="247.9"/><rect x="1136" y="478.3" width="1" height="222.7"/><rect x="1138" y="390.0" width="1" height="311.0"/><rect x="1141" y="397.4" width="1" height="303.6"/><rect x="1144" y="372.2" width="1" height="328.8"/><rect x="1146" y="426.3" width="1" height="274.7"/><rect x="1149" y="420.7" width="1" height="280.3"/><rect x="1152" y="472.7" width="1" height="228.3"/><rect x="1154" y="500.7" width="1" height="200.3"/><rect x="1157" y="422.6" width="1" height="278.4"/><rect x="1160" y="377.3" width="1" height="323.7"/><rect x="1162" y="415.1" width="1" height="285.9"/><rect x="1165" y="343.3" width="1" height="357.7"/><rect x="1168" y="443.1" width="1" height="257.9"/><rect x="1170" y="510.1" width="1" height="190.9"/><rect x="1173" y="450.4" width="1" height="250.6"/><rect x="1176" y="452.2" width="1" height="248.8"/><rect x="1179" y="394.1" width="1" height="306.9"/><rect x="1181" y="420.7" width="1" height="280.3"/><rect x="1184" y="410.1" width="1" height="290.9"/><rect x="1187" y="474.6" width="1" height="226.4"/><rect x="1189" y="487.0" width="1" height="214.0"/><rect x="1192" y="531.0" width="1" height="170.0"/><rect x="1195" y="519.1" width="1" height="181.9"/><rect x="1197" y="17" width="1" height="57" fill="#57504a"/><rect x="1197" y="74" width="1" height="627.0" fill="#b3a390"/><rect x="1200" y="474.6" width="1" height="226.4"/><rect x="1203" y="501.9" width="1" height="199.1"/><rect x="1205" y="437.2" width="1" height="263.8"/><rect x="1208" y="519.7" width="1" height="181.3"/><rect x="1211" y="531.9" width="1" height="169.1"/><rect x="1213" y="514.6" width="1" height="186.4"/><rect x="1216" y="405.6" width="1" height="295.4"/><rect x="1219" y="445.9" width="1" height="255.1"/><rect x="1221" y="383.2" width="1" height="317.8"/><rect x="1224" y="494.6" width="1" height="206.4"/><rect x="1227" y="455.5" width="1" height="245.5"/><rect x="1229" y="502.8" width="1" height="198.2"/><rect x="1232" y="466.1" width="1" height="234.9"/><rect x="1235" y="523.7" width="1" height="177.3"/><rect x="1237" y="457.7" width="1" height="243.3"/><rect x="1240" y="501.0" width="1" height="200.0"/><rect x="1243" y="442.8" width="1" height="258.2"/><rect x="1245" y="548.8" width="1" height="152.2"/><rect x="1248" y="577.9" width="1" height="123.1"/><rect x="1251" y="549.1" width="1" height="151.9"/><rect x="1253" y="483.7" width="1" height="217.3"/><rect x="1256" y="445.9" width="1" height="255.1"/><rect x="1259" y="500.1" width="1" height="200.9"/><rect x="1261" y="552.6" width="1" height="148.4"/></g>
<polyline points="87.5,537.3 90.5,540.9 93.5,560.3 95.5,552.2 98.5,540.3 101.5,538.6 103.5,538.4 106.5,541.2 109.5,537.5 111.5,542.5 114.5,549.8 117.5,562.9 119.5,562.0 122.5,567.7 125.5,568.0 127.5,571.7 130.5,559.1 133.5,563.1 135.5,563.7 138.5,567.9 141.5,568.2 144.5,570.2 146.5,574.0 149.5,585.7 152.5,586.3 154.5,586.3 157.5,589.0 160.5,588.3 162.5,591.3 165.5,588.5 168.5,595.1 170.5,594.0 173.5,595.1 176.5,595.0 178.5,595.5 181.5,596.9 184.5,599.3 186.5,600.9 189.5,606.3 192.5,605.4 194.5,606.2 197.5,607.5 200.5,612.7 202.5,617.2 205.5,614.0 208.5,612.9 210.5,614.4 213.5,613.5 216.5,612.7 218.5,605.6 221.5,604.6 224.5,595.0 226.5,603.4 229.5,601.3 232.5,601.7 234.5,602.1 237.5,600.8 240.5,601.3 242.5,610.7 245.5,602.0 248.5,604.2 250.5,603.6 253.5,603.6 256.5,604.0 259.5,603.6 261.5,600.3 264.5,600.9 267.5,596.2 269.5,595.8 272.5,594.3 275.5,592.5 277.5,590.5 280.5,592.5 283.5,591.8 285.5,590.4 288.5,590.7 291.5,589.2 293.5,589.7 296.5,591.0 299.5,588.2 301.5,587.6 304.5,597.1 307.5,597.0 309.5,596.5 312.5,596.1 315.5,591.4 317.5,593.8 320.5,596.9 323.5,588.1 325.5,586.5 328.5,587.1 331.5,588.1 333.5,590.1 336.5,593.5 339.5,584.7 341.5,588.9 344.5,594.5 347.5,583.2 349.5,581.7 352.5,581.5 355.5,578.3 357.5,562.5 360.5,562.7 363.5,557.0 365.5,565.1 368.5,564.6 371.5,561.0 374.5,557.1 376.5,577.7 379.5,570.6 382.5,568.6 384.5,571.4 387.5,572.2 390.5,570.1 392.5,569.5 395.5,563.3 398.5,567.0 400.5,565.6 403.5,564.4 406.5,562.8 408.5,565.3 411.5,565.0 414.5,569.6 416.5,557.6 419.5,559.2 422.5,559.0 424.5,577.6 427.5,578.1 430.5,578.2 432.5,577.0 435.5,589.9 438.5,591.4 440.5,592.8 443.5,576.0 446.5,575.4 448.5,577.3 451.5,579.2 454.5,579.9 456.5,578.8 459.5,579.1 462.5,578.6 464.5,581.2 467.5,579.8 470.5,581.6 472.5,580.7 475.5,581.5 478.5,581.6 480.5,565.9 483.5,569.5 486.5,570.9 489.5,569.6 491.5,570.2 494.5,570.1 497.5,570.7 499.5,586.4 502.5,580.8 505.5,581.4 507.5,581.6 510.5,582.7 513.5,582.7 515.5,582.3 518.5,583.5 521.5,585.4 523.5,584.4 526.5,582.4 529.5,581.1 531.5,580.1 534.5,580.9 537.5,580.4 539.5,581.0 542.5,580.5 545.5,581.3 547.5,572.2 550.5,573.6 553.5,572.8 555.5,572.9 558.5,563.4 561.5,565.6 563.5,564.8 566.5,574.4 569.5,572.5 571.5,572.5 574.5,575.5 577.5,582.7 579.5,582.3 582.5,581.4 585.5,581.8 587.5,582.7 590.5,581.1 593.5,577.3 595.5,576.6 598.5,577.0 601.5,577.3 604.5,575.0 606.5,571.8 609.5,571.7 612.5,567.8 614.5,564.8 617.5,561.4 620.5,559.4 622.5,554.6 625.5,554.8 628.5,550.6 630.5,551.6 633.5,553.2 636.5,540.6 638.5,535.3 641.5,528.7 644.5,522.0 646.5,520.7 649.5,514.9 652.5,510.7 654.5,510.2 657.5,507.3 660.5,507.6 662.5,508.8 665.5,504.7 668.5,505.4 670.5,489.4 673.5,489.3 676.5,485.4 678.5,477.5 681.5,473.5 684.5,473.3 686.5,467.7 689.5,472.3 692.5,468.6 694.5,467.7 697.5,469.5 700.5,471.4 702.5,468.5 705.5,470.8 708.5,472.5 710.5,471.0 713.5,462.3 716.5,458.1 719.5,451.9 721.5,452.6 724.5,452.8 727.5,451.0 729.5,451.6 732.5,453.2 735.5,457.7 737.5,453.9 740.5,453.8 743.5,452.2 745.5,451.1 748.5,444.2 751.5,444.4 753.5,440.4 756.5,442.8 759.5,440.5 761.5,436.6 764.5,434.9 767.5,437.9 769.5,436.3 772.5,449.0 775.5,461.8 777.5,467.8 780.5,471.0 783.5,463.2 785.5,460.8 788.5,456.0 791.5,453.1 793.5,448.5 796.5,448.4 799.5,446.4 801.5,444.3 804.5,450.0 807.5,448.7 809.5,428.3 812.5,413.6 815.5,405.6 817.5,401.9 820.5,404.6 823.5,389.2 825.5,393.7 828.5,393.0 831.5,391.5 834.5,388.5 836.5,393.5 839.5,388.2 842.5,392.1 844.5,386.5 847.5,381.3 850.5,382.8 852.5,381.8 855.5,378.8 858.5,376.3 860.5,378.3 863.5,376.3 866.5,380.0 868.5,377.4 871.5,381.6 874.5,380.7 876.5,391.4 879.5,394.5 882.5,393.4 884.5,403.7 887.5,408.0 890.5,415.0 892.5,416.3 895.5,421.3 898.5,420.9 900.5,431.5 903.5,426.5 906.5,429.9 908.5,430.9 911.5,434.3 914.5,439.5 916.5,450.0 919.5,457.2 922.5,474.8 924.5,479.8 927.5,481.9 930.5,486.4 932.5,489.3 935.5,489.9 938.5,490.8 940.5,489.6 943.5,490.6 946.5,491.9 949.5,491.0 951.5,496.4 954.5,495.0 957.5,495.8 959.5,499.5 962.5,502.2 965.5,501.5 967.5,504.3 970.5,495.5 973.5,501.2 975.5,512.0 978.5,508.6 981.5,507.1 983.5,501.3 986.5,501.2 989.5,503.7 991.5,514.0 994.5,504.4 997.5,503.4 999.5,503.1 1002.5,506.4 1005.5,503.6 1007.5,507.7 1010.5,494.2 1013.5,485.0 1015.5,489.2 1018.5,486.6 1021.5,475.5 1023.5,474.7 1026.5,464.8 1029.5,475.0 1031.5,478.8 1034.5,460.2 1037.5,465.8 1039.5,481.3 1042.5,479.3 1045.5,478.7 1047.5,456.8 1050.5,450.1 1053.5,467.2 1055.5,455.3 1058.5,429.7 1061.5,427.0 1064.5,436.4 1066.5,438.7 1069.5,441.4 1072.5,428.8 1074.5,418.5 1077.5,438.3 1080.5,436.0 1082.5,428.1 1085.5,414.4 1088.5,423.3 1090.5,412.4 1093.5,417.8 1096.5,408.5 1098.5,405.7 1101.5,408.2 1104.5,405.4 1106.5,404.0 1109.5,407.4 1112.5,401.4 1114.5,406.2 1117.5,402.7 1120.5,400.9 1122.5,413.8 1125.5,403.7 1128.5,402.6 1130.5,409.8 1133.5,403.5 1136.5,408.8 1138.5,400.4 1141.5,405.3 1144.5,404.6 1146.5,416.7 1149.5,419.7 1152.5,422.5 1154.5,425.7 1157.5,430.4 1160.5,427.5 1162.5,433.7 1165.5,421.8 1168.5,425.0 1170.5,430.3 1173.5,423.1 1176.5,427.4 1179.5,429.8 1181.5,430.6 1184.5,440.1 1187.5,444.6 1189.5,441.3 1192.5,452.8 1195.5,462.4 1197.5,72.6 1200.5,456.3 1203.5,101.2 1205.5,87.6 1208.5,93.2 1211.5,93.2 1213.5,93.2 1216.5,483.6 1219.5,479.5 1221.5,462.6 1224.5,470.8 1227.5,461.6 1229.5,457.5 1232.5,450.5 1235.5,467.4 1237.5,469.1 1240.5,485.9 1243.5,478.5 1245.5,491.8 1248.5,502.6 1251.5,514.4 1253.5,508.7 1256.5,507.0 1259.5,506.9 1261.5,522.6" fill="none" stroke="#38588c" stroke-width="3" stroke-linejoin="round" stroke-linecap="round"/>
<text class="ay" transform="translate(39.0,818.5) scale(0.83,1)" text-anchor="end" >-5,000</text>
<text class="ay" transform="translate(39.0,704.9) scale(0.83,1)" text-anchor="end" >0</text>
<text class="ay" transform="translate(39.0,591.3) scale(0.83,1)" text-anchor="end" >5,000</text>
<text class="ay" transform="translate(39.0,477.7) scale(0.83,1)" text-anchor="end" >10,000</text>
<text class="ay" transform="translate(39.0,364.1) scale(0.83,1)" text-anchor="end" >15,000</text>
<text class="ay" transform="translate(39.0,250.5) scale(0.83,1)" text-anchor="end" >20,000</text>
<text class="ay" transform="translate(39.0,136.9) scale(0.83,1)" text-anchor="end" >25,000</text>
<text class="ay" transform="translate(39.0,23.3) scale(0.83,1)" text-anchor="end" >30,000</text>
<text class="ax" transform="translate(52.6,722.0) scale(0.86,1)" text-anchor="middle" >4/1</text>
<text class="ax" transform="translate(71.3,722.0) scale(0.86,1)" text-anchor="middle" >4/8</text>
<text class="ax" transform="translate(90.0,722.0) scale(0.86,1)" text-anchor="middle" >4/15</text>
<text class="ax" transform="translate(108.8,722.0) scale(0.86,1)" text-anchor="middle" >4/22</text>
<text class="ax" transform="translate(127.5,722.0) scale(0.86,1)" text-anchor="middle" >4/29</text>
<text class="ax" transform="translate(146.2,722.0) scale(0.86,1)" text-anchor="middle" >5/6</text>
<text class="ax" transform="translate(164.9,722.0) scale(0.86,1)" text-anchor="middle" >5/13</text>
<text class="ax" transform="translate(183.6,722.0) scale(0.86,1)" text-anchor="middle" >5/20</text>
<text class="ax" transform="translate(202.4,722.0) scale(0.86,1)" text-anchor="middle" >5/27</text>
<text class="ax" transform="translate(221.1,722.0) scale(0.86,1)" text-anchor="middle" >6/3</text>
<text class="ax" transform="translate(239.8,722.0) scale(0.86,1)" text-anchor="middle" >6/10</text>
<text class="ax" transform="translate(258.5,722.0) scale(0.86,1)" text-anchor="middle" >6/17</text>
<text class="ax" transform="translate(277.2,722.0) scale(0.86,1)" text-anchor="middle" >6/24</text>
<text class="ax" transform="translate(296.0,722.0) scale(0.86,1)" text-anchor="middle" >7/1</text>
<text class="ax" transform="translate(314.7,722.0) scale(0.86,1)" text-anchor="middle" >7/8</text>
<text class="ax" transform="translate(333.4,722.0) scale(0.86,1)" text-anchor="middle" >7/15</text>
<text class="ax" transform="translate(352.1,722.0) scale(0.86,1)" text-anchor="middle" >7/22</text>
<text class="ax" transform="translate(370.8,722.0) scale(0.86,1)" text-anchor="middle" >7/29</text>
<text class="ax" transform="translate(389.6,722.0) scale(0.86,1)" text-anchor="middle" >8/5</text>
<text class="ax" transform="translate(408.3,722.0) scale(0.86,1)" text-anchor="middle" >8/12</text>
<text class="ax" transform="translate(427.0,722.0) scale(0.86,1)" text-anchor="middle" >8/19</text>
<text class="ax" transform="translate(445.7,722.0) scale(0.86,1)" text-anchor="middle" >8/26</text>
<text class="ax" transform="translate(464.4,722.0) scale(0.86,1)" text-anchor="middle" >9/2</text>
<text class="ax" transform="translate(483.2,722.0) scale(0.86,1)" text-anchor="middle" >9/9</text>
<text class="ax" transform="translate(501.9,722.0) scale(0.86,1)" text-anchor="middle" >9/16</text>
<text class="ax" transform="translate(520.6,722.0) scale(0.86,1)" text-anchor="middle" >9/23</text>
<text class="ax" transform="translate(539.3,722.0) scale(0.86,1)" text-anchor="middle" >9/30</text>
<text class="ax" transform="translate(558.0,722.0) scale(0.86,1)" text-anchor="middle" >10/7</text>
<text class="ax" transform="translate(576.8,722.0) scale(0.86,1)" text-anchor="middle" >10/14</text>
<text class="ax" transform="translate(595.5,722.0) scale(0.86,1)" text-anchor="middle" >10/21</text>
<text class="ax" transform="translate(614.2,722.0) scale(0.86,1)" text-anchor="middle" >10/28</text>
<text class="ax" transform="translate(632.9,722.0) scale(0.86,1)" text-anchor="middle" >11/4</text>
<text class="ax" transform="translate(651.6,722.0) scale(0.86,1)" text-anchor="middle" >11/11</text>
<text class="ax" transform="translate(670.4,722.0) scale(0.86,1)" text-anchor="middle" >11/18</text>
<text class="ax" transform="translate(689.1,722.0) scale(0.86,1)" text-anchor="middle" >11/25</text>
<text class="ax" transform="translate(707.8,722.0) scale(0.86,1)" text-anchor="middle" >12/2</text>
<text class="ax" transform="translate(726.5,722.0) scale(0.86,1)" text-anchor="middle" >12/9</text>
<text class="ax" transform="translate(745.2,722.0) scale(0.86,1)" text-anchor="middle" >12/16</text>
<text class="ax" transform="translate(764.0,722.0) scale(0.86,1)" text-anchor="middle" >12/23</text>
<text class="ax" transform="translate(782.7,722.0) scale(0.86,1)" text-anchor="middle" >12/30</text>
<text class="ax" transform="translate(801.4,722.0) scale(0.86,1)" text-anchor="middle" >1/6</text>
<text class="ax" transform="translate(820.1,722.0) scale(0.86,1)" text-anchor="middle" >1/13</text>
<text class="ax" transform="translate(838.8,722.0) scale(0.86,1)" text-anchor="middle" >1/20</text>
<text class="ax" transform="translate(857.6,722.0) scale(0.86,1)" text-anchor="middle" >1/27</text>
<text class="ax" transform="translate(876.3,722.0) scale(0.86,1)" text-anchor="middle" >2/3</text>
<text class="ax" transform="translate(895.0,722.0) scale(0.86,1)" text-anchor="middle" >2/10</text>
<text class="ax" transform="translate(913.7,722.0) scale(0.86,1)" text-anchor="middle" >2/17</text>
<text class="ax" transform="translate(932.4,722.0) scale(0.86,1)" text-anchor="middle" >2/24</text>
<text class="ax" transform="translate(951.2,722.0) scale(0.86,1)" text-anchor="middle" >3/3</text>
<text class="ax" transform="translate(969.9,722.0) scale(0.86,1)" text-anchor="middle" >3/10</text>
<text class="ax" transform="translate(988.6,722.0) scale(0.86,1)" text-anchor="middle" >3/17</text>
<text class="ax" transform="translate(1007.3,722.0) scale(0.86,1)" text-anchor="middle" >3/24</text>
<text class="ax" transform="translate(1026.0,722.0) scale(0.86,1)" text-anchor="middle" >3/31</text>
<text class="ax" transform="translate(1044.8,722.0) scale(0.86,1)" text-anchor="middle" >4/7</text>
<text class="ax" transform="translate(1063.5,722.0) scale(0.86,1)" text-anchor="middle" >4/14</text>
<text class="ax" transform="translate(1082.2,722.0) scale(0.86,1)" text-anchor="middle" >4/21</text>
<text class="ax" transform="translate(1100.9,722.0) scale(0.86,1)" text-anchor="middle" >4/28</text>
<text class="ax" transform="translate(1119.6,722.0) scale(0.86,1)" text-anchor="middle" >5/5</text>
<text class="ax" transform="translate(1138.4,722.0) scale(0.86,1)" text-anchor="middle" >5/12</text>
<text class="ax" transform="translate(1157.1,722.0) scale(0.86,1)" text-anchor="middle" >5/19</text>
<text class="ax" transform="translate(1175.8,722.0) scale(0.86,1)" text-anchor="middle" >5/26</text>
<text class="ax" transform="translate(1194.5,722.0) scale(0.86,1)" text-anchor="middle" >6/2</text>
<text class="ax" transform="translate(1213.2,722.0) scale(0.86,1)" text-anchor="middle" >6/9</text>
<text class="ax" transform="translate(1232.0,722.0) scale(0.86,1)" text-anchor="middle" >6/16</text>
<text class="ax" transform="translate(1250.7,722.0) scale(0.86,1)" text-anchor="middle" >6/23</text>
<rect x="81.5" y="459.1" width="36.2" height="19" fill="#fff"/>
<text class="dl" transform="translate(99.6,473.0) scale(0.83,1)" text-anchor="middle" >9,654</text>
<rect x="206.8" y="500.3" width="36.2" height="19" fill="#fff"/>
<text class="dl" transform="translate(224.9,514.2) scale(0.83,1)" text-anchor="middle" >7,807</text>
<rect x="530.5" y="483.6" width="36.2" height="19" fill="#fff"/>
<text class="dl" transform="translate(548.6,497.5) scale(0.83,1)" text-anchor="middle" >8,577</text>
<rect x="557.2" y="611.1" width="36.2" height="19" fill="#fff"/>
<text class="dl" transform="translate(575.3,625.0) scale(0.83,1)" text-anchor="middle" >2,994</text>
<rect x="617.0" y="433.8" width="41.8" height="19" fill="#fff"/>
<text class="dl" transform="translate(637.9,447.7) scale(0.83,1)" text-anchor="middle" >10,750</text>
<rect x="728.9" y="347.9" width="41.8" height="19" fill="#fff"/>
<text class="dl" transform="translate(749.8,361.8) scale(0.83,1)" text-anchor="middle" >14,526</text>
<rect x="827.7" y="275.5" width="41.8" height="19" fill="#fff"/>
<text class="dl" transform="translate(848.6,289.4) scale(0.83,1)" text-anchor="middle" >17,710</text>
<rect x="883.9" y="337.8" width="41.8" height="19" fill="#fff"/>
<text class="dl" transform="translate(904.8,351.7) scale(0.83,1)" text-anchor="middle" >14,964</text>
<rect x="1014.8" y="347.3" width="41.8" height="19" fill="#fff"/>
<text class="dl" transform="translate(1035.7,361.2) scale(0.83,1)" text-anchor="middle" >14,580</text>
<text class="dl" transform="translate(1105.7,262.5) scale(0.83,1)" text-anchor="middle" >18,878</text>
<text class="dl" transform="translate(1129.6,332.9) scale(0.83,1)" text-anchor="middle" >15,813</text>
<rect x="1060.6" y="506.5" width="36.2" height="19" fill="#fff"/>
<text class="dl" transform="translate(1078.7,520.4) scale(0.83,1)" text-anchor="middle" >7,560</text>
<rect x="1138.0" y="477.7" width="36.2" height="19" fill="#fff"/>
<text class="dl" transform="translate(1156.1,491.6) scale(0.83,1)" text-anchor="middle" >8,815</text>
<rect x="1202.4" y="361.0" width="41.8" height="19" fill="#fff"/>
<text class="dl" transform="translate(1223.3,374.9) scale(0.83,1)" text-anchor="middle" >13,988</text>
<rect x="1244.8" y="530.0" width="36.2" height="19" fill="#fff"/>
<text class="dl" transform="translate(1262.9,543.9) scale(0.83,1)" text-anchor="middle" >6,530</text>
<text class="cj" x="353.5" y="148" font-size="31" font-weight="500" letter-spacing="1" stroke="#000" stroke-width="0.15" fill="#000">全球单日新增新冠死亡病例历史</text>
<rect x="387" y="224.2" width="26" height="8.6" fill="#000"/>
<text class="cj" x="416" y="235.5" font-size="18.6" fill="#000">全球单日新增病亡数</text>
<line x1="610.5" y1="228.7" x2="636.5" y2="228.7" stroke="#38588c" stroke-width="3" stroke-linecap="round"/>
<text class="cj" x="639" y="235.5" font-size="18.6" fill="#44546a">7天移动平均死亡</text>
<text class="cj" x="932.00" y="137.50" font-size="11.7" fill="#c6282b" stroke="#c6282b" stroke-width="0.2"><tspan letter-spacing="-0.07">6</tspan><tspan letter-spacing="1.50">月</tspan><tspan letter-spacing="-0.07">3</tspan><tspan letter-spacing="1.50">日数据显示秘鲁单日新增死亡</tspan><tspan letter-spacing="-0.07">115,165</tspan></text>
<text class="cj" x="932.00" y="154.55" font-size="11.7" fill="#c6282b" stroke="#c6282b" stroke-width="0.2"><tspan letter-spacing="1.50">例，累计数从前</tspan><tspan letter-spacing="-0.07">1</tspan><tspan letter-spacing="1.50">天的</tspan><tspan letter-spacing="-0.07">69,342</tspan><tspan letter-spacing="1.50">例到</tspan><tspan letter-spacing="-0.07">184,507</tspan><tspan letter-spacing="1.50">例</tspan></text>
<text class="cj" x="932.00" y="188.65" font-size="11.7" fill="#c6282b" stroke="#c6282b" stroke-width="0.2"><tspan letter-spacing="1.50">因此，全球单日新增新冠死亡为</tspan><tspan letter-spacing="-0.07">133,353</tspan><tspan letter-spacing="1.50">例。</tspan></text>
<rect x="354.6" y="750.5" width="156.1" height="57.9" fill="#fff" stroke="#6e1c1c" stroke-width="1.2"/>
<text class="cj" x="354.80" y="763.20" font-size="12" fill="#c6282b" stroke="#c6282b" stroke-width="0.2"><tspan letter-spacing="0.94">注：</tspan><tspan letter-spacing="0.00">2020</tspan><tspan letter-spacing="0.94">年</tspan><tspan letter-spacing="0.00">8</tspan><tspan letter-spacing="0.94">月</tspan><tspan letter-spacing="0.00">18</tspan><tspan letter-spacing="0.94">日</tspan></text>
<text class="cj" x="354.80" y="781.50" font-size="12" fill="#c6282b" stroke="#c6282b" stroke-width="0.2"><tspan letter-spacing="0.94">英国单日新增负</tspan><tspan letter-spacing="0.00">5337</tspan><tspan letter-spacing="0.94">例，</tspan></text>
<text class="cj" x="354.80" y="799.80" font-size="12" fill="#c6282b" stroke="#c6282b" stroke-width="0.2"><tspan letter-spacing="0.94">全球单日新增负</tspan><tspan letter-spacing="0.00">1173</tspan><tspan letter-spacing="0.94">例</tspan></text>
<text class="dl" transform="translate(426.4,744.6) scale(0.83,1)" text-anchor="middle" style="fill:#c6282b">(1,173)</text>
<g><clipPath id="gc"><circle cx="269.1" cy="130.4" r="55.8"/></clipPath><filter id="gr" x="-5%" y="-5%" width="110%" height="110%"><feTurbulence type="fractalNoise" baseFrequency="0.28" numOctaves="2" seed="3" result="n"/><feDisplacementMap in="SourceGraphic" in2="n" scale="4.5" xChannelSelector="R" yChannelSelector="G"/></filter><g clip-path="url(#gc)"><g filter="url(#gr)"><rect x="207.3" y="68.60000000000001" width="123.6" height="123.6" fill="#000"/><path d="M240.4,83.7 L241.3,82.3 L241.6,79.9 L243.9,78.0 L244.1,76.7 L247.6,75.9 L248.7,73.8 L250.8,73.9 L253.5,71.9 L256.0,72.5 L259.0,70.5 L260.4,72.0 L263.7,71.8 L265.3,70.9 L269.0,71.8 L268.3,75.0 L269.8,77.0 L269.3,79.4 L270.6,81.3 L272.6,82.3 L274.1,85.3 L273.9,86.5 L274.7,89.3 L274.2,91.7 L276.4,91.9 L279.1,92.1 L282.2,92.2 L284.0,92.1 L286.0,91.8 L288.1,91.9 L290.6,91.1 L291.3,89.1 L294.4,86.6 L295.9,85.4 L296.7,89.0 L294.7,90.3 L293.4,92.9 L291.0,94.5 L289.8,95.9 L287.0,95.4 L284.1,94.9 L281.9,96.0 L280.0,94.9 L277.4,96.1 L276.6,95.7 L273.2,94.8 L271.0,95.0 L268.5,94.7 L266.4,95.5 L265.4,94.5 L261.9,95.1 L259.4,94.0 L256.2,94.0 L254.5,94.3 L251.4,94.7 L248.5,94.8 L246.1,95.5 L245.0,92.4 L244.5,90.4 L243.4,88.8 L242.1,86.9Z" fill="#fff"/><path d="M279.7,78.4 L281.8,77.7 L285.5,77.6 L286.5,81.9 L280.9,82.7 L281.2,80.2Z" fill="#fff"/><path d="M226.8,117.1 L227.1,114.0 L229.0,112.0 L230.9,109.4 L233.4,108.0 L236.5,106.2 L238.2,106.0 L240.6,107.6 L243.2,109.4 L245.6,107.4 L247.3,105.9 L248.7,103.1 L251.7,104.9 L253.6,105.0 L256.3,102.7 L258.9,101.6 L259.6,104.0 L262.7,106.3 L260.8,109.7 L258.4,110.5 L260.3,113.5 L262.8,115.8 L264.5,113.5 L265.6,112.6 L268.6,111.4 L271.2,109.9 L272.4,109.8 L275.7,110.1 L277.9,108.9 L279.8,108.7 L280.9,110.3 L282.9,112.6 L284.3,116.1 L283.8,117.5 L283.0,118.9 L280.2,118.1 L277.6,119.8 L275.4,119.6 L273.6,121.8 L273.5,123.3 L271.6,126.3 L274.2,128.6 L275.4,130.9 L276.4,132.2 L276.0,135.9 L274.5,136.2 L271.7,137.0 L269.7,138.5 L266.6,138.0 L265.5,136.6 L263.1,137.3 L260.1,135.6 L256.3,134.8 L255.1,135.9 L251.7,136.4 L249.3,136.5 L250.6,140.2 L252.6,142.6 L254.1,143.7 L255.8,145.5 L256.8,148.8 L258.9,150.5 L259.6,152.6 L260.7,154.9 L260.8,156.9 L257.9,159.0 L255.0,160.9 L252.2,161.2 L251.4,162.8 L247.7,161.8 L244.5,161.0 L244.0,158.5 L241.7,156.8 L239.9,155.3 L237.5,153.2 L240.5,153.6 L243.9,151.4 L242.7,150.3 L239.9,146.4 L237.2,145.3 L235.2,144.3 L232.7,143.7 L231.7,142.5 L230.4,139.4 L228.2,137.4 L227.8,134.5 L226.8,131.9 L228.0,129.1 L226.8,127.5 L227.1,124.2 L226.0,121.5 L226.2,119.2Z" fill="#fff"/><path d="M294.2,127.9 L296.6,125.2 L297.7,125.2 L301.8,123.6 L303.2,123.9 L304.8,126.7 L307.5,127.7 L309.7,127.7 L305.3,130.7 L303.9,131.1 L302.5,130.6 L299.8,130.1 L297.4,129.1 L294.5,129.0Z" fill="#fff"/><path d="M312.8,111.0 L315.2,112.6 L316.0,115.1 L317.3,118.6 L316.7,120.1 L314.7,118.6 L314.0,115.3 L313.9,112.1Z" fill="#fff"/><path d="M300.8,110.7 L304.8,109.1 L305.2,111.2 L304.5,113.2 L302.9,116.0 L301.3,112.3Z" fill="#fff"/><path d="M263.3,160.9 L264.8,158.5 L266.8,158.1 L267.6,154.9 L270.4,154.9 L273.6,153.8 L276.4,154.0 L280.3,153.5 L278.4,155.5 L275.5,157.2 L272.0,159.6 L269.7,161.4 L268.5,161.6 L266.5,163.7 L265.7,166.2 L265.2,167.7 L265.7,171.1 L268.0,171.4 L270.3,174.0 L274.2,176.3 L276.3,178.0 L277.8,179.9 L274.0,180.0 L272.5,177.4 L270.0,176.4 L267.3,174.7 L264.6,172.5 L263.9,170.8 L264.1,168.1 L263.2,165.9 L262.5,164.1Z" fill="#fff"/><path d="M289.1,156.6 L289.6,154.6 L292.2,153.4 L294.3,154.4 L297.9,155.9 L298.1,159.5 L299.8,160.4 L299.5,162.7 L300.4,165.7 L299.4,169.4 L297.9,170.9 L297.4,173.4 L294.5,175.5 L293.0,176.7 L290.9,179.2 L291.0,180.7 L289.5,181.3 L287.1,179.0 L289.6,177.6 L289.9,174.0 L291.3,172.2 L292.2,168.8 L292.1,166.8 L292.2,164.0 L290.8,160.9 L289.2,158.7Z" fill="#fff"/><path d="M222.1,143.8 L223.7,144.9 L226.5,143.5 L228.7,144.2 L231.9,144.8 L234.9,146.1 L235.8,145.8 L237.4,147.9 L240.5,149.1 L241.6,150.4 L244.3,152.2 L242.2,152.9 L239.7,152.0 L237.7,152.7 L234.8,151.6 L232.7,150.1 L229.4,148.9 L226.8,148.9 L225.6,146.7 L223.3,146.7Z" fill="#fff"/><path d="M225.5,155.7 L228.1,157.8 L230.5,158.1 L231.6,160.7 L234.4,162.1 L235.0,162.3 L237.2,163.4 L240.9,165.4 L242.8,166.5 L244.7,168.0 L245.6,170.1 L248.8,170.3 L250.2,172.7 L251.6,173.7 L253.4,174.8 L256.8,176.4 L260.6,176.5 L257.6,179.2 L256.2,178.2 L252.9,177.5 L251.2,177.4 L248.0,175.4 L246.6,175.1 L245.1,173.2 L242.3,173.2 L240.8,171.3 L238.7,171.4 L236.8,169.6 L235.0,168.0 L234.2,167.6 L231.4,164.8 L230.3,163.4 L227.2,163.3 L226.2,161.8 L224.3,160.5Z" fill="#fff"/><path d="M262.2,180.4 L264.0,181.7 L267.7,183.0 L269.3,183.1 L272.8,182.4 L275.3,181.5 L275.0,185.6 L271.3,185.0 L269.7,186.0 L265.7,184.7 L265.1,184.0Z" fill="#fff"/><path d="M214.8,114.8 L218.5,115.6 L221.3,116.3 L224.1,115.8 L224.5,118.5 L221.1,119.4 L219.1,118.1 L215.3,118.3Z" fill="#fff"/><path d="M222.6,100.8 L224.3,99.1 L227.8,98.8 L229.0,96.8 L231.7,98.3 L229.6,99.9 L226.9,102.1 L224.7,103.1Z" fill="#fff"/><path d="M230.2,92.5 L232.4,91.3 L234.7,89.6 L236.2,88.6 L239.0,90.4 L237.2,92.7 L234.4,92.9 L232.2,94.0Z" fill="#fff"/><path d="M302.9,157.6 L305.0,156.1 L307.9,153.9 L309.1,157.9 L307.4,160.6 L305.0,160.8Z" fill="#fff"/><circle cx="246.3" cy="113.7" r="0.79" fill="#000"/><circle cx="249.0" cy="113.7" r="0.62" fill="#000"/><circle cx="249.0" cy="113.5" r="0.42" fill="#000"/><circle cx="246.1" cy="113.0" r="0.45" fill="#000"/><circle cx="243.6" cy="114.3" r="0.47" fill="#000"/><circle cx="247.3" cy="115.4" r="0.97" fill="#000"/><circle cx="245.1" cy="111.8" r="0.99" fill="#000"/><circle cx="261.6" cy="113.3" r="0.60" fill="#000"/><circle cx="257.3" cy="112.8" r="0.62" fill="#000"/><circle cx="257.2" cy="110.1" r="0.81" fill="#000"/><circle cx="254.8" cy="109.7" r="0.78" fill="#000"/><circle cx="257.4" cy="112.1" r="0.54" fill="#000"/><circle cx="255.3" cy="109.1" r="0.62" fill="#000"/><circle cx="253.9" cy="110.2" r="0.61" fill="#000"/><circle cx="257.7" cy="107.7" r="0.57" fill="#000"/><circle cx="253.5" cy="110.2" r="1.01" fill="#000"/><circle cx="256.2" cy="109.5" r="1.09" fill="#000"/><circle cx="267.5" cy="122.5" r="0.93" fill="#000"/><circle cx="267.2" cy="123.2" r="0.43" fill="#000"/><circle cx="262.8" cy="116.1" r="0.80" fill="#000"/><circle cx="267.0" cy="118.7" r="0.89" fill="#000"/><circle cx="262.0" cy="118.3" r="0.72" fill="#000"/><circle cx="269.0" cy="114.5" r="0.73" fill="#000"/><circle cx="264.7" cy="119.6" r="0.89" fill="#000"/><circle cx="259.7" cy="113.1" r="0.98" fill="#000"/><circle cx="264.6" cy="123.2" r="0.87" fill="#000"/><circle cx="268.4" cy="120.9" r="0.52" fill="#000"/><circle cx="266.0" cy="121.1" r="0.94" fill="#000"/><circle cx="266.7" cy="122.0" r="0.67" fill="#000"/><circle cx="248.3" cy="127.6" r="0.62" fill="#000"/><circle cx="243.9" cy="127.0" r="0.81" fill="#000"/><circle cx="248.8" cy="127.0" r="0.61" fill="#000"/><circle cx="245.2" cy="131.3" r="0.88" fill="#000"/><circle cx="248.5" cy="129.2" r="0.52" fill="#000"/><circle cx="262.7" cy="106.9" r="0.97" fill="#000"/><circle cx="262.3" cy="103.3" r="0.84" fill="#000"/><circle cx="259.3" cy="106.2" r="1.26" fill="#000"/><circle cx="260.8" cy="99.2" r="0.99" fill="#000"/><circle cx="261.8" cy="102.0" r="1.22" fill="#000"/><circle cx="263.6" cy="96.2" r="1.14" fill="#000"/><circle cx="259.6" cy="105.1" r="0.58" fill="#000"/><circle cx="261.5" cy="102.1" r="0.55" fill="#000"/><circle cx="262.8" cy="104.9" r="0.77" fill="#000"/><circle cx="262.4" cy="103.0" r="0.62" fill="#000"/><circle cx="264.9" cy="104.9" r="0.52" fill="#000"/><circle cx="265.6" cy="99.7" r="0.62" fill="#000"/><circle cx="262.3" cy="106.1" r="0.79" fill="#000"/><circle cx="267.0" cy="107.6" r="1.29" fill="#000"/><circle cx="258.5" cy="103.8" r="0.57" fill="#000"/><circle cx="264.8" cy="104.8" r="0.71" fill="#000"/><circle cx="263.3" cy="101.2" r="0.52" fill="#000"/><circle cx="266.3" cy="101.7" r="0.62" fill="#000"/><circle cx="261.6" cy="102.8" r="0.92" fill="#000"/><circle cx="269.0" cy="102.1" r="1.06" fill="#000"/><circle cx="262.1" cy="106.2" r="0.63" fill="#000"/><circle cx="262.9" cy="98.8" r="1.12" fill="#000"/><circle cx="250.7" cy="100.9" r="1.15" fill="#000"/><circle cx="257.3" cy="98.6" r="1.14" fill="#000"/><circle cx="253.6" cy="94.8" r="0.68" fill="#000"/><circle cx="248.9" cy="98.8" r="0.52" fill="#000"/><circle cx="254.0" cy="99.5" r="0.71" fill="#000"/><circle cx="249.1" cy="92.3" r="0.86" fill="#000"/><circle cx="259.6" cy="95.8" r="1.26" fill="#000"/><circle cx="250.3" cy="100.6" r="0.68" fill="#000"/><circle cx="252.3" cy="101.0" r="1.00" fill="#000"/><circle cx="256.2" cy="95.8" r="0.88" fill="#000"/><circle cx="248.7" cy="94.8" r="0.57" fill="#000"/><circle cx="248.2" cy="93.7" r="1.13" fill="#000"/><circle cx="251.6" cy="95.8" r="0.64" fill="#000"/><circle cx="252.3" cy="96.6" r="1.14" fill="#000"/><circle cx="254.5" cy="98.6" r="0.82" fill="#000"/><circle cx="256.1" cy="97.6" r="0.64" fill="#000"/><circle cx="252.8" cy="100.3" r="1.22" fill="#000"/><circle cx="252.2" cy="97.6" r="1.16" fill="#000"/><circle cx="241.3" cy="101.5" r="1.15" fill="#000"/><circle cx="235.6" cy="101.5" r="0.81" fill="#000"/><circle cx="241.2" cy="101.2" r="1.33" fill="#000"/><circle cx="239.9" cy="100.8" r="1.67" fill="#000"/><circle cx="238.0" cy="100.2" r="1.05" fill="#000"/><circle cx="236.5" cy="104.1" r="1.39" fill="#000"/><circle cx="236.9" cy="105.0" r="0.93" fill="#000"/><circle cx="239.4" cy="100.6" r="1.26" fill="#000"/><circle cx="231.6" cy="98.9" r="1.22" fill="#000"/><circle cx="240.1" cy="100.3" r="1.33" fill="#000"/><circle cx="236.5" cy="101.9" r="1.24" fill="#000"/><circle cx="237.2" cy="102.2" r="1.60" fill="#000"/><circle cx="238.6" cy="104.9" r="1.53" fill="#000"/><circle cx="234.7" cy="101.1" r="1.32" fill="#000"/><circle cx="232.3" cy="100.3" r="0.91" fill="#000"/><circle cx="235.1" cy="101.2" r="1.08" fill="#000"/><circle cx="237.6" cy="98.6" r="1.36" fill="#000"/><circle cx="237.5" cy="95.6" r="1.24" fill="#000"/><circle cx="265.9" cy="126.3" r="0.66" fill="#000"/><circle cx="267.2" cy="125.7" r="0.67" fill="#000"/><circle cx="262.4" cy="129.0" r="0.75" fill="#000"/><circle cx="272.3" cy="124.1" r="0.53" fill="#000"/><circle cx="262.7" cy="126.1" r="0.82" fill="#000"/><circle cx="268.9" cy="129.1" r="0.62" fill="#000"/><circle cx="241.9" cy="121.4" r="0.33" fill="#000"/><circle cx="237.5" cy="116.0" r="0.66" fill="#000"/><circle cx="242.6" cy="124.2" r="0.56" fill="#000"/><circle cx="243.8" cy="125.2" r="0.69" fill="#000"/><circle cx="236.5" cy="137.2" r="0.46" fill="#000"/><circle cx="226.4" cy="130.8" r="0.63" fill="#000"/><circle cx="236.8" cy="132.8" r="0.51" fill="#000"/><circle cx="234.1" cy="131.8" r="0.43" fill="#000"/><circle cx="251.3" cy="149.2" r="0.93" fill="#000"/><circle cx="245.6" cy="153.0" r="0.68" fill="#000"/><circle cx="271.2" cy="128.1" r="0.93" fill="#000"/><circle cx="251.6" cy="106.9" r="0.50" fill="#000"/><circle cx="243.3" cy="109.7" r="0.76" fill="#000"/><circle cx="255.1" cy="117.2" r="0.77" fill="#000"/><circle cx="267.2" cy="122.8" r="0.64" fill="#000"/><circle cx="243.6" cy="158.7" r="0.70" fill="#000"/><circle cx="255.4" cy="115.4" r="0.86" fill="#000"/><circle cx="267.8" cy="120.0" r="0.75" fill="#000"/><circle cx="250.9" cy="109.2" r="0.38" fill="#000"/><circle cx="246.6" cy="106.5" r="0.84" fill="#000"/><circle cx="240.4" cy="120.7" r="0.36" fill="#000"/><circle cx="244.3" cy="118.4" r="0.59" fill="#000"/><circle cx="241.2" cy="156.0" r="0.88" fill="#000"/><circle cx="261.8" cy="131.9" r="0.47" fill="#000"/><circle cx="262.1" cy="122.6" r="0.52" fill="#000"/><circle cx="233.2" cy="141.4" r="0.86" fill="#000"/><circle cx="272.1" cy="123.1" r="0.61" fill="#000"/><circle cx="262.6" cy="124.7" r="0.50" fill="#000"/><circle cx="251.1" cy="121.2" r="0.90" fill="#000"/><circle cx="259.7" cy="157.5" r="0.47" fill="#000"/><circle cx="236.6" cy="110.1" r="0.56" fill="#000"/><circle cx="257.6" cy="112.8" r="0.42" fill="#000"/><circle cx="240.5" cy="125.2" r="0.61" fill="#000"/><circle cx="259.7" cy="109.2" r="0.61" fill="#000"/><circle cx="273.1" cy="129.5" r="0.76" fill="#000"/><circle cx="243.8" cy="127.5" r="0.75" fill="#000"/><circle cx="251.4" cy="117.2" r="0.83" fill="#000"/><circle cx="254.4" cy="113.8" r="0.85" fill="#000"/><circle cx="247.1" cy="135.6" r="0.89" fill="#000"/><circle cx="251.6" cy="155.3" r="0.59" fill="#000"/><circle cx="244.0" cy="127.7" r="0.35" fill="#000"/><circle cx="279.1" cy="118.3" r="0.55" fill="#000"/><circle cx="261.0" cy="127.9" r="0.78" fill="#000"/><circle cx="274.2" cy="116.3" r="0.44" fill="#000"/><circle cx="244.8" cy="115.2" r="0.67" fill="#000"/><circle cx="304.7" cy="144.1" r="0.37" fill="#fff"/><circle cx="320.2" cy="132.5" r="0.53" fill="#fff"/><circle cx="227.1" cy="113.0" r="0.72" fill="#fff"/><circle cx="284.0" cy="126.6" r="0.62" fill="#fff"/><circle cx="233.5" cy="101.1" r="0.77" fill="#fff"/><circle cx="242.3" cy="178.8" r="0.56" fill="#fff"/><circle cx="216.5" cy="135.5" r="0.32" fill="#fff"/><circle cx="241.7" cy="174.4" r="0.48" fill="#fff"/><circle cx="272.4" cy="105.0" r="0.52" fill="#fff"/><circle cx="283.1" cy="103.6" r="0.71" fill="#fff"/><circle cx="236.5" cy="152.9" r="0.44" fill="#fff"/><circle cx="214.0" cy="128.2" r="0.63" fill="#fff"/><circle cx="277.5" cy="99.4" r="0.46" fill="#fff"/><circle cx="256.1" cy="171.1" r="0.62" fill="#fff"/><circle cx="234.0" cy="101.8" r="0.69" fill="#fff"/><circle cx="305.9" cy="107.0" r="0.61" fill="#fff"/><circle cx="236.6" cy="97.1" r="0.60" fill="#fff"/><circle cx="250.3" cy="97.7" r="0.68" fill="#fff"/><circle cx="288.2" cy="144.5" r="0.32" fill="#fff"/><circle cx="277.3" cy="77.7" r="0.63" fill="#fff"/><circle cx="278.6" cy="89.7" r="0.43" fill="#fff"/><circle cx="257.5" cy="164.7" r="0.46" fill="#fff"/><circle cx="228.6" cy="149.3" r="0.77" fill="#fff"/><circle cx="308.7" cy="144.5" r="0.32" fill="#fff"/><circle cx="306.0" cy="164.5" r="0.59" fill="#fff"/><circle cx="303.7" cy="133.5" r="0.60" fill="#fff"/><circle cx="320.2" cy="109.3" r="0.54" fill="#fff"/><circle cx="253.9" cy="139.7" r="0.62" fill="#fff"/><circle cx="274.2" cy="151.5" r="0.31" fill="#fff"/><circle cx="315.2" cy="131.8" r="0.36" fill="#fff"/><circle cx="285.3" cy="126.9" r="0.73" fill="#fff"/><circle cx="263.8" cy="103.4" r="0.67" fill="#fff"/><circle cx="273.9" cy="141.9" r="0.69" fill="#fff"/><circle cx="236.6" cy="96.4" r="0.53" fill="#fff"/><circle cx="294.7" cy="118.8" r="0.78" fill="#fff"/><circle cx="313.9" cy="134.6" r="0.71" fill="#fff"/><circle cx="296.4" cy="145.3" r="0.66" fill="#fff"/><circle cx="295.2" cy="175.1" r="0.54" fill="#fff"/><circle cx="300.6" cy="142.8" r="0.59" fill="#fff"/><circle cx="299.7" cy="169.8" r="0.48" fill="#fff"/><circle cx="241.9" cy="95.4" r="0.51" fill="#fff"/><circle cx="315.6" cy="113.6" r="0.58" fill="#fff"/><circle cx="265.5" cy="143.7" r="0.79" fill="#fff"/><circle cx="247.7" cy="168.2" r="0.79" fill="#fff"/><circle cx="256.0" cy="164.5" r="0.74" fill="#fff"/><circle cx="236.1" cy="162.7" r="0.60" fill="#fff"/><circle cx="308.9" cy="99.9" r="0.44" fill="#fff"/><circle cx="297.7" cy="130.7" r="0.51" fill="#fff"/><circle cx="226.0" cy="104.3" r="0.74" fill="#fff"/><circle cx="318.2" cy="143.8" r="0.71" fill="#fff"/><circle cx="297.4" cy="99.1" r="0.44" fill="#fff"/><circle cx="298.9" cy="90.1" r="0.64" fill="#fff"/><circle cx="297.3" cy="113.4" r="0.34" fill="#fff"/><circle cx="222.1" cy="113.9" r="0.40" fill="#fff"/><circle cx="273.5" cy="173.7" r="0.64" fill="#fff"/><circle cx="267.7" cy="178.7" r="0.70" fill="#fff"/><circle cx="286.2" cy="84.4" r="0.42" fill="#fff"/><circle cx="222.7" cy="105.1" r="0.74" fill="#fff"/><circle cx="277.5" cy="152.6" r="0.65" fill="#fff"/><circle cx="241.8" cy="162.2" r="0.50" fill="#fff"/><circle cx="322.6" cy="145.8" r="0.49" fill="#fff"/><circle cx="274.2" cy="109.0" r="0.60" fill="#fff"/><circle cx="246.5" cy="163.7" r="0.31" fill="#fff"/><circle cx="323.4" cy="142.0" r="0.73" fill="#fff"/><circle cx="227.2" cy="134.0" r="0.43" fill="#fff"/><circle cx="292.1" cy="80.7" r="0.43" fill="#fff"/><circle cx="293.4" cy="136.3" r="0.39" fill="#fff"/><circle cx="280.0" cy="136.7" r="0.58" fill="#fff"/><circle cx="295.1" cy="103.0" r="0.77" fill="#fff"/><circle cx="281.0" cy="122.8" r="0.60" fill="#fff"/><circle cx="253.7" cy="142.0" r="0.78" fill="#fff"/><circle cx="234.5" cy="88.2" r="0.63" fill="#fff"/><circle cx="298.6" cy="176.6" r="0.80" fill="#fff"/><circle cx="271.0" cy="141.2" r="0.43" fill="#fff"/><circle cx="237.4" cy="172.9" r="0.75" fill="#fff"/><circle cx="279.7" cy="84.6" r="0.62" fill="#fff"/><circle cx="282.2" cy="129.2" r="0.37" fill="#fff"/><circle cx="270.8" cy="76.3" r="0.64" fill="#fff"/><circle cx="256.1" cy="171.3" r="0.68" fill="#fff"/><circle cx="294.1" cy="149.9" r="0.43" fill="#fff"/><circle cx="282.4" cy="154.2" r="0.37" fill="#fff"/><circle cx="264.1" cy="106.3" r="0.32" fill="#fff"/><circle cx="292.6" cy="118.9" r="0.77" fill="#fff"/><circle cx="304.3" cy="91.3" r="0.37" fill="#fff"/><circle cx="315.3" cy="108.2" r="0.61" fill="#fff"/><circle cx="286.2" cy="95.8" r="0.61" fill="#fff"/><circle cx="285.5" cy="150.9" r="0.33" fill="#fff"/><circle cx="301.1" cy="171.5" r="0.43" fill="#fff"/><circle cx="262.3" cy="181.1" r="0.47" fill="#fff"/><circle cx="288.4" cy="164.4" r="0.46" fill="#fff"/><circle cx="284.6" cy="119.6" r="0.79" fill="#fff"/><circle cx="318.6" cy="148.9" r="0.63" fill="#fff"/><circle cx="278.4" cy="167.8" r="0.44" fill="#fff"/><circle cx="267.9" cy="155.4" r="0.48" fill="#fff"/><circle cx="324.8" cy="127.3" r="0.76" fill="#fff"/><circle cx="293.7" cy="147.7" r="0.75" fill="#fff"/><circle cx="313.6" cy="147.2" r="0.45" fill="#fff"/><circle cx="276.1" cy="129.5" r="0.70" fill="#fff"/><circle cx="257.8" cy="148.0" r="0.30" fill="#fff"/><circle cx="283.5" cy="164.3" r="0.76" fill="#fff"/><circle cx="277.5" cy="171.7" r="0.37" fill="#fff"/><circle cx="289.9" cy="174.7" r="0.66" fill="#fff"/><circle cx="274.3" cy="145.2" r="0.34" fill="#fff"/><circle cx="238.6" cy="105.6" r="0.44" fill="#fff"/><circle cx="281.0" cy="172.4" r="0.65" fill="#fff"/><circle cx="285.2" cy="90.9" r="0.40" fill="#fff"/><circle cx="312.9" cy="149.6" r="0.50" fill="#fff"/><circle cx="281.1" cy="100.4" r="0.72" fill="#fff"/><circle cx="294.9" cy="100.9" r="0.31" fill="#fff"/><circle cx="301.7" cy="109.8" r="0.74" fill="#fff"/><circle cx="263.4" cy="185.7" r="0.51" fill="#fff"/><circle cx="296.4" cy="82.0" r="0.62" fill="#fff"/><circle cx="297.9" cy="178.0" r="0.62" fill="#fff"/><circle cx="223.1" cy="99.2" r="0.40" fill="#fff"/><circle cx="213.9" cy="123.5" r="0.67" fill="#fff"/><circle cx="213.8" cy="125.0" r="0.47" fill="#fff"/><circle cx="256.8" cy="76.2" r="0.89" fill="#fff"/><circle cx="306.0" cy="88.8" r="0.59" fill="#fff"/><circle cx="255.7" cy="76.4" r="0.63" fill="#fff"/><circle cx="269.6" cy="74.8" r="0.44" fill="#fff"/><circle cx="307.9" cy="90.5" r="0.97" fill="#fff"/><circle cx="213.5" cy="132.2" r="0.71" fill="#fff"/><circle cx="214.5" cy="119.8" r="0.72" fill="#fff"/><circle cx="324.2" cy="137.6" r="0.98" fill="#fff"/><circle cx="278.2" cy="185.2" r="0.51" fill="#fff"/><circle cx="313.5" cy="163.8" r="0.55" fill="#fff"/><circle cx="291.9" cy="79.7" r="0.42" fill="#fff"/><circle cx="314.8" cy="162.1" r="0.82" fill="#fff"/><circle cx="287.9" cy="182.7" r="0.41" fill="#fff"/><circle cx="224.0" cy="97.9" r="0.75" fill="#fff"/><circle cx="214.1" cy="122.4" r="0.82" fill="#fff"/><circle cx="313.5" cy="163.9" r="0.92" fill="#fff"/><circle cx="257.7" cy="76.0" r="0.43" fill="#fff"/><circle cx="308.9" cy="169.2" r="0.70" fill="#fff"/><circle cx="213.5" cy="130.1" r="0.57" fill="#fff"/><circle cx="309.1" cy="169.0" r="0.64" fill="#fff"/><circle cx="305.4" cy="172.6" r="0.76" fill="#fff"/><circle cx="304.8" cy="87.8" r="0.49" fill="#fff"/><circle cx="219.2" cy="105.8" r="0.85" fill="#fff"/><circle cx="297.6" cy="178.1" r="0.90" fill="#fff"/><circle cx="320.5" cy="109.1" r="0.63" fill="#fff"/><circle cx="220.3" cy="157.0" r="0.90" fill="#fff"/><circle cx="214.2" cy="121.5" r="0.64" fill="#fff"/><circle cx="321.0" cy="110.4" r="0.87" fill="#fff"/><circle cx="239.7" cy="177.6" r="0.54" fill="#fff"/><circle cx="240.8" cy="178.2" r="0.66" fill="#fff"/><circle cx="324.3" cy="123.9" r="0.88" fill="#fff"/><circle cx="316.6" cy="101.4" r="0.89" fill="#fff"/><circle cx="301.1" cy="84.9" r="0.43" fill="#fff"/><circle cx="213.8" cy="124.3" r="0.97" fill="#fff"/><circle cx="320.0" cy="108.1" r="0.55" fill="#fff"/><circle cx="220.0" cy="156.5" r="0.78" fill="#fff"/><circle cx="232.5" cy="172.2" r="0.72" fill="#fff"/><circle cx="319.5" cy="153.8" r="0.66" fill="#fff"/><circle cx="213.5" cy="128.7" r="0.41" fill="#fff"/><circle cx="304.7" cy="173.1" r="0.98" fill="#fff"/><circle cx="278.3" cy="75.6" r="0.96" fill="#fff"/><circle cx="231.9" cy="89.1" r="0.89" fill="#fff"/><circle cx="310.7" cy="93.5" r="0.93" fill="#fff"/><circle cx="323.4" cy="142.3" r="0.78" fill="#fff"/><circle cx="263.6" cy="185.7" r="0.81" fill="#fff"/><circle cx="260.9" cy="185.4" r="0.73" fill="#fff"/><circle cx="318.5" cy="105.0" r="0.77" fill="#fff"/><circle cx="268.9" cy="186.0" r="0.71" fill="#fff"/><circle cx="218.3" cy="152.9" r="0.97" fill="#fff"/><circle cx="256.1" cy="184.5" r="0.58" fill="#fff"/><circle cx="235.7" cy="85.9" r="0.47" fill="#fff"/><circle cx="223.0" cy="99.4" r="0.97" fill="#fff"/><circle cx="213.7" cy="125.6" r="0.56" fill="#fff"/><circle cx="214.7" cy="142.0" r="0.72" fill="#fff"/><circle cx="302.2" cy="175.1" r="0.47" fill="#fff"/><circle cx="306.8" cy="171.3" r="0.58" fill="#fff"/><circle cx="222.8" cy="161.2" r="0.57" fill="#fff"/><circle cx="271.4" cy="186.0" r="0.45" fill="#fff"/><circle cx="215.8" cy="114.4" r="0.90" fill="#fff"/><circle cx="226.2" cy="95.0" r="0.74" fill="#fff"/><circle cx="236.5" cy="85.3" r="0.52" fill="#fff"/><circle cx="255.4" cy="76.5" r="0.68" fill="#fff"/><circle cx="216.0" cy="113.9" r="0.77" fill="#fff"/><circle cx="214.6" cy="141.2" r="0.59" fill="#fff"/><circle cx="271.8" cy="185.9" r="0.53" fill="#fff"/><circle cx="213.7" cy="126.1" r="0.63" fill="#fff"/><circle cx="221.4" cy="101.9" r="0.41" fill="#fff"/><circle cx="235.7" cy="174.8" r="0.92" fill="#fff"/><circle cx="273.1" cy="185.9" r="0.73" fill="#fff"/><circle cx="213.6" cy="133.4" r="0.57" fill="#fff"/><circle cx="324.5" cy="126.0" r="0.58" fill="#fff"/><circle cx="276.8" cy="75.3" r="0.50" fill="#fff"/><circle cx="319.9" cy="153.1" r="0.92" fill="#fff"/><circle cx="217.4" cy="150.9" r="0.44" fill="#fff"/><circle cx="226.7" cy="166.4" r="0.66" fill="#fff"/><circle cx="264.0" cy="75.0" r="0.47" fill="#fff"/><circle cx="277.7" cy="185.3" r="0.98" fill="#fff"/><circle cx="265.1" cy="74.9" r="0.49" fill="#fff"/><circle cx="240.2" cy="177.9" r="0.61" fill="#fff"/><circle cx="244.0" cy="80.8" r="0.77" fill="#fff"/><circle cx="301.8" cy="85.4" r="0.89" fill="#fff"/><circle cx="213.8" cy="124.2" r="0.84" fill="#fff"/><circle cx="266.8" cy="74.8" r="0.86" fill="#fff"/><circle cx="214.2" cy="139.0" r="0.87" fill="#fff"/></g></g></g>
<text class="cj" x="1011.6" y="806.4" font-size="25.3" fill="#000" stroke="#000" stroke-width="0.5">搜狐号@雪鸮XueXiao</text>
<text class="cj" x="1010.3" y="805.1" font-size="25.3" fill="#fff">搜狐号@雪鸮XueXiao</text>
<rect x="0" y="0" width="1.25" height="825" fill="#000"/>
<rect x="1283" y="0" width="4" height="825" fill="#f6f6f6"/><rect x="1286.7" y="0" width="1.3" height="825" fill="#000"/>
</svg></body></html>
